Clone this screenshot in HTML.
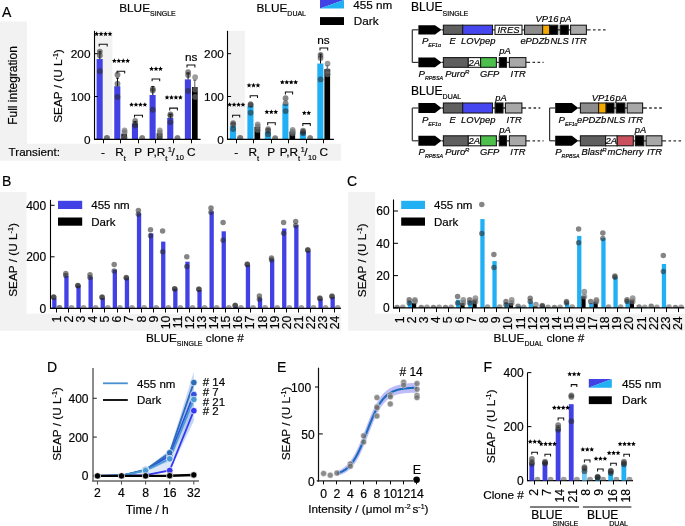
<!DOCTYPE html>
<html><head><meta charset="utf-8"><style>
html,body{margin:0;padding:0;background:#fff;}
body{width:685px;height:526px;overflow:hidden;}
svg{display:block;font-family:"Liberation Sans",sans-serif;will-change:transform;}
text{stroke:#000;stroke-width:0.22px;stroke-opacity:0.8;}
</style></head><body>
<svg width="685" height="526" viewBox="0 0 685 526">
<defs><clipPath id="a94"><rect x="94.30" y="0.00" width="120.00" height="139.30"/></clipPath><clipPath id="a227"><rect x="227.60" y="0.00" width="120.00" height="139.30"/></clipPath><clipPath id="c50"><rect x="50.40" y="150.00" width="300.00" height="158.30"/></clipPath><clipPath id="c393"><rect x="393.80" y="150.00" width="300.00" height="157.90"/></clipPath><clipPath id="fclip"><rect x="528.00" y="300.00" width="110.00" height="180.60"/></clipPath></defs>
<rect width="685" height="526" fill="#fff"/>
<text x="1.90" y="16.90" font-size="14" text-anchor="start" fill="#000">A</text>
<path d="M0 21.5H27V143.8H341.2V160.8H0Z" fill="#f2f2f2"/>
<text x="17.30" y="85.50" font-size="12" text-anchor="middle" transform="rotate(-90 17.30 85.50)" fill="#000">Full integration</text>
<text x="8.60" y="156.40" font-size="11.65" text-anchor="start" fill="#000">Transient:</text>
<text x="119.20" y="12.40" font-size="11.8" text-anchor="start" fill="#000">BLUE<tspan font-size="7" dy="3.4">SINGLE</tspan></text>
<text x="256.50" y="12.30" font-size="11.8" text-anchor="start" fill="#000">BLUE<tspan font-size="7" dy="3.2">DUAL</tspan></text>
<polygon points="320,0 344,0 320,8.6" fill="#4141e6"/>
<polygon points="344,0 344,8.6 320,8.6" fill="#22b0f5"/>
<rect x="320.00" y="17.10" width="24.00" height="7.90" fill="#000"/>
<text x="353.20" y="8.50" font-size="11.7" text-anchor="start" fill="#000">455 nm</text>
<text x="353.80" y="25.00" font-size="11.7" text-anchor="start" fill="#000">Dark</text>
<rect x="94.30" y="30.80" width="18.10" height="108.50" fill="#f2f2f2"/>
<rect x="96.60" y="59.01" width="6.10" height="80.29" fill="#4141e6"/>
<line x1="99.85" y1="59.01" x2="99.85" y2="51.73" stroke="#000" stroke-width="1"/>
<line x1="98.40" y1="51.73" x2="101.30" y2="51.73" stroke="#000" stroke-width="1"/>
<circle cx="99.85" cy="51.56" r="2.90" fill="rgba(40,40,40,0.57)" clip-path="url(#a94)"/>
<circle cx="99.85" cy="55.41" r="2.90" fill="rgba(40,40,40,0.57)" clip-path="url(#a94)"/>
<circle cx="99.85" cy="71.25" r="2.90" fill="rgba(40,40,40,0.57)" clip-path="url(#a94)"/>
<circle cx="106.90" cy="138.02" r="2.90" fill="rgba(110,110,110,0.68)" clip-path="url(#a94)"/>
<circle cx="106.90" cy="138.23" r="2.90" fill="rgba(110,110,110,0.68)" clip-path="url(#a94)"/>
<circle cx="106.90" cy="138.44" r="2.90" fill="rgba(110,110,110,0.68)" clip-path="url(#a94)"/>
<line x1="103.50" y1="139.30" x2="103.50" y2="143.30" stroke="#000" stroke-width="1"/>
<rect x="114.25" y="86.23" width="6.10" height="53.07" fill="#4141e6"/>
<rect x="121.35" y="133.74" width="5.70" height="5.56" fill="#000"/>
<line x1="117.50" y1="86.23" x2="117.50" y2="78.10" stroke="#000" stroke-width="1"/>
<line x1="116.05" y1="78.10" x2="118.95" y2="78.10" stroke="#000" stroke-width="1"/>
<circle cx="117.50" cy="74.67" r="2.90" fill="rgba(40,40,40,0.57)" clip-path="url(#a94)"/>
<circle cx="117.50" cy="83.66" r="2.90" fill="rgba(40,40,40,0.57)" clip-path="url(#a94)"/>
<circle cx="117.50" cy="96.93" r="2.90" fill="rgba(40,40,40,0.57)" clip-path="url(#a94)"/>
<circle cx="124.55" cy="130.31" r="2.90" fill="rgba(110,110,110,0.68)" clip-path="url(#a94)"/>
<circle cx="124.55" cy="132.45" r="2.90" fill="rgba(110,110,110,0.68)" clip-path="url(#a94)"/>
<circle cx="124.55" cy="137.59" r="2.90" fill="rgba(110,110,110,0.68)" clip-path="url(#a94)"/>
<line x1="120.50" y1="139.30" x2="120.50" y2="143.30" stroke="#000" stroke-width="1"/>
<rect x="131.90" y="123.59" width="6.10" height="15.71" fill="#4141e6"/>
<line x1="135.15" y1="123.59" x2="135.15" y2="121.45" stroke="#000" stroke-width="1"/>
<line x1="133.70" y1="121.45" x2="136.60" y2="121.45" stroke="#000" stroke-width="1"/>
<circle cx="135.15" cy="120.90" r="2.90" fill="rgba(40,40,40,0.57)" clip-path="url(#a94)"/>
<circle cx="135.15" cy="123.89" r="2.90" fill="rgba(40,40,40,0.57)" clip-path="url(#a94)"/>
<circle cx="135.15" cy="125.60" r="2.90" fill="rgba(40,40,40,0.57)" clip-path="url(#a94)"/>
<circle cx="142.20" cy="138.02" r="2.90" fill="rgba(110,110,110,0.68)" clip-path="url(#a94)"/>
<circle cx="142.20" cy="138.44" r="2.90" fill="rgba(110,110,110,0.68)" clip-path="url(#a94)"/>
<line x1="138.50" y1="139.30" x2="138.50" y2="143.30" stroke="#000" stroke-width="1"/>
<rect x="149.55" y="95.00" width="6.10" height="44.30" fill="#4141e6"/>
<rect x="156.65" y="133.31" width="5.70" height="5.99" fill="#000"/>
<line x1="152.80" y1="95.00" x2="152.80" y2="86.44" stroke="#000" stroke-width="1"/>
<line x1="151.35" y1="86.44" x2="154.25" y2="86.44" stroke="#000" stroke-width="1"/>
<circle cx="152.80" cy="88.80" r="2.90" fill="rgba(40,40,40,0.57)" clip-path="url(#a94)"/>
<circle cx="152.80" cy="90.51" r="2.90" fill="rgba(40,40,40,0.57)" clip-path="url(#a94)"/>
<circle cx="152.80" cy="109.77" r="2.90" fill="rgba(40,40,40,0.57)" clip-path="url(#a94)"/>
<circle cx="159.85" cy="130.31" r="2.90" fill="rgba(110,110,110,0.68)" clip-path="url(#a94)"/>
<circle cx="159.85" cy="132.88" r="2.90" fill="rgba(110,110,110,0.68)" clip-path="url(#a94)"/>
<circle cx="159.85" cy="136.73" r="2.90" fill="rgba(110,110,110,0.68)" clip-path="url(#a94)"/>
<line x1="155.50" y1="139.30" x2="155.50" y2="143.30" stroke="#000" stroke-width="1"/>
<rect x="167.20" y="117.99" width="6.10" height="21.31" fill="#4141e6"/>
<line x1="170.45" y1="117.99" x2="170.45" y2="114.56" stroke="#000" stroke-width="1"/>
<line x1="169.00" y1="114.56" x2="171.90" y2="114.56" stroke="#000" stroke-width="1"/>
<circle cx="170.45" cy="114.48" r="2.90" fill="rgba(40,40,40,0.57)" clip-path="url(#a94)"/>
<circle cx="170.45" cy="115.76" r="2.90" fill="rgba(40,40,40,0.57)" clip-path="url(#a94)"/>
<circle cx="170.45" cy="122.18" r="2.90" fill="rgba(40,40,40,0.57)" clip-path="url(#a94)"/>
<circle cx="177.50" cy="138.02" r="2.90" fill="rgba(110,110,110,0.68)" clip-path="url(#a94)"/>
<circle cx="177.50" cy="138.44" r="2.90" fill="rgba(110,110,110,0.68)" clip-path="url(#a94)"/>
<line x1="173.50" y1="139.30" x2="173.50" y2="143.30" stroke="#000" stroke-width="1"/>
<rect x="184.85" y="79.38" width="6.10" height="59.92" fill="#4141e6"/>
<rect x="191.95" y="87.08" width="5.70" height="52.22" fill="#000"/>
<line x1="188.10" y1="79.38" x2="188.10" y2="72.96" stroke="#000" stroke-width="1"/>
<line x1="186.65" y1="72.96" x2="189.55" y2="72.96" stroke="#000" stroke-width="1"/>
<line x1="194.80" y1="87.08" x2="194.80" y2="80.24" stroke="#555" stroke-width="1"/>
<line x1="193.35" y1="80.24" x2="196.25" y2="80.24" stroke="#555" stroke-width="1"/>
<circle cx="188.10" cy="72.10" r="2.90" fill="rgba(40,40,40,0.57)" clip-path="url(#a94)"/>
<circle cx="188.10" cy="75.10" r="2.90" fill="rgba(40,40,40,0.57)" clip-path="url(#a94)"/>
<circle cx="188.10" cy="90.94" r="2.90" fill="rgba(40,40,40,0.57)" clip-path="url(#a94)"/>
<circle cx="195.15" cy="77.24" r="2.90" fill="rgba(110,110,110,0.68)" clip-path="url(#a94)"/>
<circle cx="195.15" cy="89.65" r="2.90" fill="rgba(110,110,110,0.68)" clip-path="url(#a94)"/>
<circle cx="195.15" cy="96.93" r="2.90" fill="rgba(110,110,110,0.68)" clip-path="url(#a94)"/>
<line x1="191.50" y1="139.30" x2="191.50" y2="143.30" stroke="#000" stroke-width="1"/>
<line x1="94.50" y1="30.80" x2="94.50" y2="139.80" stroke="#000" stroke-width="1.1"/>
<line x1="94.00" y1="139.30" x2="200.60" y2="139.30" stroke="#000" stroke-width="1.3"/>
<line x1="94.30" y1="139.30" x2="97.80" y2="139.30" stroke="#000" stroke-width="1"/>
<text x="90.50" y="143.50" font-size="11.8" text-anchor="end" fill="#000">0</text>
<line x1="94.30" y1="96.50" x2="97.80" y2="96.50" stroke="#000" stroke-width="1"/>
<text x="90.50" y="100.70" font-size="11.8" text-anchor="end" fill="#000">100</text>
<line x1="94.30" y1="53.70" x2="97.80" y2="53.70" stroke="#000" stroke-width="1"/>
<text x="90.50" y="57.90" font-size="11.8" text-anchor="end" fill="#000">200</text>
<text x="103.00" y="156.30" font-size="11.8" text-anchor="middle" fill="#000">-</text>
<text x="120.65" y="156.30" font-size="11.8" text-anchor="middle" fill="#000">R<tspan font-size="7.5" dy="4.2">t</tspan></text>
<text x="138.30" y="156.30" font-size="11.8" text-anchor="middle" fill="#000">P</text>
<text x="191.25" y="156.30" font-size="11.8" text-anchor="middle" fill="#000">C</text>
<text x="147.05" y="156.30" font-size="11.8" text-anchor="start" fill="#000">P,R<tspan font-size="7.5" dy="4.2">t</tspan></text>
<text x="168.10" y="151.90" font-size="7" text-anchor="start" fill="#000">1</text>
<text x="171.60" y="155.90" font-size="11.8" text-anchor="start" fill="#000">/</text>
<text x="175.50" y="159.60" font-size="7.5" text-anchor="start" fill="#000">10</text>
<text x="62.30" y="86.00" font-size="11.8" text-anchor="middle" transform="rotate(-90 62.30 86.00)" fill="#000">SEAP / (U L<tspan font-size="7.1" dy="-4">-1</tspan><tspan dy="4">)</tspan></text>
<polygon points="96.62,31.45 97.30,33.07 99.05,33.21 97.72,34.36 98.12,36.06 96.62,35.15 95.13,36.06 95.53,34.36 94.20,33.21 95.95,33.07" fill="#000"/>
<polygon points="101.08,31.45 101.75,33.07 103.50,33.21 102.17,34.36 102.57,36.06 101.08,35.15 99.58,36.06 99.98,34.36 98.65,33.21 100.40,33.07" fill="#000"/>
<polygon points="105.53,31.45 106.20,33.07 107.95,33.21 106.62,34.36 107.02,36.06 105.53,35.15 104.03,36.06 104.43,34.36 103.10,33.21 104.85,33.07" fill="#000"/>
<polygon points="109.97,31.45 110.65,33.07 112.40,33.21 111.07,34.36 111.47,36.06 109.97,35.15 108.48,36.06 108.88,34.36 107.55,33.21 109.30,33.07" fill="#000"/>
<path d="M99.20 46.60V44.20H107.20V46.60" fill="none" stroke="#111" stroke-width="1.05"/>
<polygon points="114.33,58.35 115.00,59.97 116.75,60.11 115.42,61.26 115.82,62.96 114.33,62.05 112.83,62.96 113.23,61.26 111.90,60.11 113.65,59.97" fill="#000"/>
<polygon points="118.78,58.35 119.45,59.97 121.20,60.11 119.87,61.26 120.27,62.96 118.78,62.05 117.28,62.96 117.68,61.26 116.35,60.11 118.10,59.97" fill="#000"/>
<polygon points="123.23,58.35 123.90,59.97 125.65,60.11 124.32,61.26 124.72,62.96 123.23,62.05 121.73,62.96 122.13,61.26 120.80,60.11 122.55,59.97" fill="#000"/>
<polygon points="127.68,58.35 128.35,59.97 130.10,60.11 128.77,61.26 129.17,62.96 127.68,62.05 126.18,62.96 126.58,61.26 125.25,60.11 127.00,59.97" fill="#000"/>
<path d="M117.10 73.60V71.20H124.70V73.60" fill="none" stroke="#111" stroke-width="1.05"/>
<polygon points="131.52,102.15 132.20,103.77 133.95,103.91 132.62,105.06 133.02,106.76 131.52,105.85 130.03,106.76 130.43,105.06 129.10,103.91 130.85,103.77" fill="#000"/>
<polygon points="135.97,102.15 136.65,103.77 138.40,103.91 137.07,105.06 137.47,106.76 135.97,105.85 134.48,106.76 134.88,105.06 133.55,103.91 135.30,103.77" fill="#000"/>
<polygon points="140.42,102.15 141.10,103.77 142.85,103.91 141.52,105.06 141.92,106.76 140.42,105.85 138.93,106.76 139.33,105.06 138.00,103.91 139.75,103.77" fill="#000"/>
<polygon points="144.87,102.15 145.55,103.77 147.30,103.91 145.97,105.06 146.37,106.76 144.87,105.85 143.38,106.76 143.78,105.06 142.45,103.91 144.20,103.77" fill="#000"/>
<path d="M134.50 117.60V115.20H142.50V117.60" fill="none" stroke="#111" stroke-width="1.05"/>
<polygon points="151.55,66.35 152.23,67.97 153.98,68.11 152.64,69.26 153.05,70.96 151.55,70.05 150.05,70.96 150.46,69.26 149.12,68.11 150.87,67.97" fill="#000"/>
<polygon points="156.00,66.35 156.68,67.97 158.43,68.11 157.09,69.26 157.50,70.96 156.00,70.05 154.50,70.96 154.91,69.26 153.57,68.11 155.32,67.97" fill="#000"/>
<polygon points="160.45,66.35 161.13,67.97 162.88,68.11 161.54,69.26 161.95,70.96 160.45,70.05 158.95,70.96 159.36,69.26 158.02,68.11 159.77,67.97" fill="#000"/>
<path d="M152.10 81.30V78.90H159.70V81.30" fill="none" stroke="#111" stroke-width="1.05"/>
<polygon points="167.02,94.95 167.70,96.57 169.45,96.71 168.12,97.86 168.52,99.56 167.02,98.65 165.53,99.56 165.93,97.86 164.60,96.71 166.35,96.57" fill="#000"/>
<polygon points="171.47,94.95 172.15,96.57 173.90,96.71 172.57,97.86 172.97,99.56 171.47,98.65 169.98,99.56 170.38,97.86 169.05,96.71 170.80,96.57" fill="#000"/>
<polygon points="175.92,94.95 176.60,96.57 178.35,96.71 177.02,97.86 177.42,99.56 175.92,98.65 174.43,99.56 174.83,97.86 173.50,96.71 175.25,96.57" fill="#000"/>
<polygon points="180.37,94.95 181.05,96.57 182.80,96.71 181.47,97.86 181.87,99.56 180.37,98.65 178.88,99.56 179.28,97.86 177.95,96.71 179.70,96.57" fill="#000"/>
<path d="M169.70 110.50V108.10H177.40V110.50" fill="none" stroke="#111" stroke-width="1.05"/>
<text x="191.20" y="60.60" font-size="11.8" text-anchor="middle" fill="#000">ns</text>
<path d="M187.00 67.40V65.00H194.90V67.40" fill="none" stroke="#111" stroke-width="1.05"/>
<rect x="227.60" y="30.80" width="17.20" height="108.50" fill="#f2f2f2"/>
<rect x="229.90" y="126.03" width="6.10" height="13.27" fill="#22b0f5"/>
<circle cx="233.15" cy="123.04" r="2.90" fill="rgba(40,40,40,0.57)" clip-path="url(#a227)"/>
<circle cx="233.15" cy="124.75" r="2.90" fill="rgba(40,40,40,0.57)" clip-path="url(#a227)"/>
<circle cx="233.15" cy="129.03" r="2.90" fill="rgba(40,40,40,0.57)" clip-path="url(#a227)"/>
<circle cx="240.20" cy="138.02" r="2.90" fill="rgba(110,110,110,0.68)" clip-path="url(#a227)"/>
<circle cx="240.20" cy="138.23" r="2.90" fill="rgba(110,110,110,0.68)" clip-path="url(#a227)"/>
<circle cx="240.20" cy="138.44" r="2.90" fill="rgba(110,110,110,0.68)" clip-path="url(#a227)"/>
<line x1="236.50" y1="139.30" x2="236.50" y2="143.30" stroke="#000" stroke-width="1"/>
<rect x="247.38" y="105.92" width="6.10" height="33.38" fill="#22b0f5"/>
<rect x="254.48" y="126.89" width="5.70" height="12.41" fill="#000"/>
<circle cx="250.63" cy="104.20" r="2.90" fill="rgba(40,40,40,0.57)" clip-path="url(#a227)"/>
<circle cx="250.63" cy="105.06" r="2.90" fill="rgba(40,40,40,0.57)" clip-path="url(#a227)"/>
<circle cx="250.63" cy="112.76" r="2.90" fill="rgba(40,40,40,0.57)" clip-path="url(#a227)"/>
<circle cx="257.68" cy="124.32" r="2.90" fill="rgba(110,110,110,0.68)" clip-path="url(#a227)"/>
<circle cx="257.68" cy="126.46" r="2.90" fill="rgba(110,110,110,0.68)" clip-path="url(#a227)"/>
<circle cx="257.68" cy="129.88" r="2.90" fill="rgba(110,110,110,0.68)" clip-path="url(#a227)"/>
<line x1="253.50" y1="139.30" x2="253.50" y2="143.30" stroke="#000" stroke-width="1"/>
<rect x="264.86" y="131.60" width="6.10" height="7.70" fill="#22b0f5"/>
<circle cx="268.11" cy="129.03" r="2.90" fill="rgba(40,40,40,0.57)" clip-path="url(#a227)"/>
<circle cx="268.11" cy="130.74" r="2.90" fill="rgba(40,40,40,0.57)" clip-path="url(#a227)"/>
<circle cx="268.11" cy="134.16" r="2.90" fill="rgba(40,40,40,0.57)" clip-path="url(#a227)"/>
<circle cx="275.16" cy="138.23" r="2.90" fill="rgba(110,110,110,0.68)" clip-path="url(#a227)"/>
<circle cx="275.16" cy="138.44" r="2.90" fill="rgba(110,110,110,0.68)" clip-path="url(#a227)"/>
<line x1="271.50" y1="139.30" x2="271.50" y2="143.30" stroke="#000" stroke-width="1"/>
<rect x="282.34" y="104.20" width="6.10" height="35.10" fill="#22b0f5"/>
<rect x="289.44" y="131.60" width="5.70" height="7.70" fill="#000"/>
<circle cx="285.59" cy="98.21" r="2.90" fill="rgba(40,40,40,0.57)" clip-path="url(#a227)"/>
<circle cx="285.59" cy="103.35" r="2.90" fill="rgba(40,40,40,0.57)" clip-path="url(#a227)"/>
<circle cx="285.59" cy="111.05" r="2.90" fill="rgba(40,40,40,0.57)" clip-path="url(#a227)"/>
<circle cx="292.64" cy="129.88" r="2.90" fill="rgba(110,110,110,0.68)" clip-path="url(#a227)"/>
<circle cx="292.64" cy="131.60" r="2.90" fill="rgba(110,110,110,0.68)" clip-path="url(#a227)"/>
<circle cx="292.64" cy="133.31" r="2.90" fill="rgba(110,110,110,0.68)" clip-path="url(#a227)"/>
<line x1="288.50" y1="139.30" x2="288.50" y2="143.30" stroke="#000" stroke-width="1"/>
<rect x="299.82" y="132.02" width="6.10" height="7.28" fill="#22b0f5"/>
<circle cx="303.07" cy="130.74" r="2.90" fill="rgba(40,40,40,0.57)" clip-path="url(#a227)"/>
<circle cx="303.07" cy="132.02" r="2.90" fill="rgba(40,40,40,0.57)" clip-path="url(#a227)"/>
<circle cx="303.07" cy="133.31" r="2.90" fill="rgba(40,40,40,0.57)" clip-path="url(#a227)"/>
<circle cx="310.12" cy="138.02" r="2.90" fill="rgba(110,110,110,0.68)" clip-path="url(#a227)"/>
<circle cx="310.12" cy="138.44" r="2.90" fill="rgba(110,110,110,0.68)" clip-path="url(#a227)"/>
<line x1="306.50" y1="139.30" x2="306.50" y2="143.30" stroke="#000" stroke-width="1"/>
<rect x="317.30" y="63.54" width="6.10" height="75.76" fill="#22b0f5"/>
<rect x="324.40" y="69.11" width="5.70" height="70.19" fill="#000"/>
<line x1="320.55" y1="63.54" x2="320.55" y2="54.13" stroke="#000" stroke-width="1"/>
<line x1="319.10" y1="54.13" x2="322.00" y2="54.13" stroke="#000" stroke-width="1"/>
<line x1="327.25" y1="69.11" x2="327.25" y2="65.68" stroke="#555" stroke-width="1"/>
<line x1="325.80" y1="65.68" x2="328.70" y2="65.68" stroke="#555" stroke-width="1"/>
<circle cx="320.55" cy="54.98" r="2.90" fill="rgba(40,40,40,0.57)" clip-path="url(#a227)"/>
<circle cx="320.55" cy="57.98" r="2.90" fill="rgba(40,40,40,0.57)" clip-path="url(#a227)"/>
<circle cx="320.55" cy="79.38" r="2.90" fill="rgba(40,40,40,0.57)" clip-path="url(#a227)"/>
<circle cx="327.60" cy="63.54" r="2.90" fill="rgba(110,110,110,0.68)" clip-path="url(#a227)"/>
<circle cx="327.60" cy="70.82" r="2.90" fill="rgba(110,110,110,0.68)" clip-path="url(#a227)"/>
<circle cx="327.60" cy="74.24" r="2.90" fill="rgba(110,110,110,0.68)" clip-path="url(#a227)"/>
<line x1="323.50" y1="139.30" x2="323.50" y2="143.30" stroke="#000" stroke-width="1"/>
<line x1="227.50" y1="30.80" x2="227.50" y2="139.80" stroke="#000" stroke-width="1.1"/>
<line x1="227.00" y1="139.30" x2="333.90" y2="139.30" stroke="#000" stroke-width="1.3"/>
<line x1="227.60" y1="139.30" x2="231.10" y2="139.30" stroke="#000" stroke-width="1"/>
<text x="223.80" y="143.50" font-size="11.8" text-anchor="end" fill="#000">0</text>
<line x1="227.60" y1="96.50" x2="231.10" y2="96.50" stroke="#000" stroke-width="1"/>
<text x="223.80" y="100.70" font-size="11.8" text-anchor="end" fill="#000">100</text>
<line x1="227.60" y1="53.70" x2="231.10" y2="53.70" stroke="#000" stroke-width="1"/>
<text x="223.80" y="57.90" font-size="11.8" text-anchor="end" fill="#000">200</text>
<text x="236.30" y="156.30" font-size="11.8" text-anchor="middle" fill="#000">-</text>
<text x="253.78" y="156.30" font-size="11.8" text-anchor="middle" fill="#000">R<tspan font-size="7.5" dy="4.2">t</tspan></text>
<text x="271.26" y="156.30" font-size="11.8" text-anchor="middle" fill="#000">P</text>
<text x="323.70" y="156.30" font-size="11.8" text-anchor="middle" fill="#000">C</text>
<text x="279.84" y="156.30" font-size="11.8" text-anchor="start" fill="#000">P,R<tspan font-size="7.5" dy="4.2">t</tspan></text>
<text x="300.72" y="151.90" font-size="7" text-anchor="start" fill="#000">1</text>
<text x="304.22" y="155.90" font-size="11.8" text-anchor="start" fill="#000">/</text>
<text x="308.12" y="159.60" font-size="7.5" text-anchor="start" fill="#000">10</text>
<polygon points="229.62,102.15 230.30,103.77 232.05,103.91 230.72,105.06 231.12,106.76 229.62,105.85 228.13,106.76 228.53,105.06 227.20,103.91 228.95,103.77" fill="#000"/>
<polygon points="234.07,102.15 234.75,103.77 236.50,103.91 235.17,105.06 235.57,106.76 234.07,105.85 232.58,106.76 232.98,105.06 231.65,103.91 233.40,103.77" fill="#000"/>
<polygon points="238.53,102.15 239.20,103.77 240.95,103.91 239.62,105.06 240.02,106.76 238.53,105.85 237.03,106.76 237.43,105.06 236.10,103.91 237.85,103.77" fill="#000"/>
<polygon points="242.97,102.15 243.65,103.77 245.40,103.91 244.07,105.06 244.47,106.76 242.97,105.85 241.48,106.76 241.88,105.06 240.55,103.91 242.30,103.77" fill="#000"/>
<path d="M232.60 117.60V115.20H239.70V117.60" fill="none" stroke="#111" stroke-width="1.05"/>
<polygon points="249.05,82.85 249.73,84.47 251.48,84.61 250.14,85.76 250.55,87.46 249.05,86.55 247.55,87.46 247.96,85.76 246.62,84.61 248.37,84.47" fill="#000"/>
<polygon points="253.50,82.85 254.18,84.47 255.93,84.61 254.59,85.76 255.00,87.46 253.50,86.55 252.00,87.46 252.41,85.76 251.07,84.61 252.82,84.47" fill="#000"/>
<polygon points="257.95,82.85 258.63,84.47 260.38,84.61 259.04,85.76 259.45,87.46 257.95,86.55 256.45,87.46 256.86,85.76 255.52,84.61 257.27,84.47" fill="#000"/>
<path d="M250.20 98.10V95.70H257.50V98.10" fill="none" stroke="#111" stroke-width="1.05"/>
<polygon points="266.85,109.45 267.53,111.07 269.28,111.21 267.94,112.36 268.35,114.06 266.85,113.15 265.35,114.06 265.76,112.36 264.42,111.21 266.17,111.07" fill="#000"/>
<polygon points="271.30,109.45 271.98,111.07 273.73,111.21 272.39,112.36 272.80,114.06 271.30,113.15 269.80,114.06 270.21,112.36 268.87,111.21 270.62,111.07" fill="#000"/>
<polygon points="275.75,109.45 276.43,111.07 278.18,111.21 276.84,112.36 277.25,114.06 275.75,113.15 274.25,114.06 274.66,112.36 273.32,111.21 275.07,111.07" fill="#000"/>
<path d="M267.70 125.20V122.80H275.30V125.20" fill="none" stroke="#111" stroke-width="1.05"/>
<polygon points="282.32,79.75 283.00,81.37 284.75,81.51 283.42,82.66 283.82,84.36 282.32,83.45 280.83,84.36 281.23,82.66 279.90,81.51 281.65,81.37" fill="#000"/>
<polygon points="286.77,79.75 287.45,81.37 289.20,81.51 287.87,82.66 288.27,84.36 286.77,83.45 285.28,84.36 285.68,82.66 284.35,81.51 286.10,81.37" fill="#000"/>
<polygon points="291.22,79.75 291.90,81.37 293.65,81.51 292.32,82.66 292.72,84.36 291.22,83.45 289.73,84.36 290.13,82.66 288.80,81.51 290.55,81.37" fill="#000"/>
<polygon points="295.68,79.75 296.35,81.37 298.10,81.51 296.77,82.66 297.17,84.36 295.68,83.45 294.18,84.36 294.58,82.66 293.25,81.51 295.00,81.37" fill="#000"/>
<path d="M285.40 94.40V92.00H292.60V94.40" fill="none" stroke="#111" stroke-width="1.05"/>
<polygon points="304.27,110.45 304.95,112.07 306.70,112.21 305.37,113.36 305.77,115.06 304.27,114.15 302.78,115.06 303.18,113.36 301.85,112.21 303.60,112.07" fill="#000"/>
<polygon points="308.72,110.45 309.40,112.07 311.15,112.21 309.82,113.36 310.22,115.06 308.72,114.15 307.23,115.06 307.63,113.36 306.30,112.21 308.05,112.07" fill="#000"/>
<path d="M302.80 126.00V123.60H310.30V126.00" fill="none" stroke="#111" stroke-width="1.05"/>
<text x="323.50" y="44.00" font-size="11.8" text-anchor="middle" fill="#000">ns</text>
<path d="M320.00 50.40V48.00H327.70V50.40" fill="none" stroke="#111" stroke-width="1.05"/>
<text x="411.00" y="11.20" font-size="12.1" text-anchor="start" fill="#000">BLUE<tspan font-size="7" dy="4.5">SINGLE</tspan></text>
<line x1="441.50" y1="29.80" x2="586.40" y2="29.80" stroke="#333" stroke-width="1.3"/>
<line x1="586.40" y1="29.80" x2="605.60" y2="29.80" stroke="#333" stroke-width="1.3" stroke-dasharray="4.2 2.4 2.6 2.4 2.6 2.4 2.6 9"/>
<polygon points="418.40,25.20 435.00,25.20 441.50,29.80 435.00,34.40 418.40,34.40" fill="#000"/>
<rect x="443.40" y="25.20" width="19.30" height="9.20" fill="#5f5f5f" stroke="#1a1a1a" stroke-width="1.1"/>
<rect x="462.70" y="25.20" width="29.80" height="9.20" fill="#4646f0" stroke="#1a1a1a" stroke-width="1.1"/>
<rect x="495.00" y="25.20" width="27.00" height="9.20" fill="#fff" stroke="#1a1a1a" stroke-width="1.1"/>
<text x="508.50" y="32.80" font-size="9.5" text-anchor="middle" font-style="italic" fill="#000">IRES</text>
<rect x="524.50" y="25.20" width="18.10" height="9.20" fill="#8c8c8c" stroke="#1a1a1a" stroke-width="1.1"/>
<rect x="542.60" y="25.20" width="7.00" height="9.20" fill="#f5a800" stroke="#1a1a1a" stroke-width="1.1"/>
<rect x="549.60" y="25.20" width="8.20" height="9.20" fill="#000" stroke="#1a1a1a" stroke-width="1.1"/>
<rect x="560.20" y="25.20" width="8.10" height="9.20" fill="#000" stroke="#1a1a1a" stroke-width="1.1"/>
<rect x="570.60" y="25.20" width="15.80" height="9.20" fill="#a8a8a8" stroke="#1a1a1a" stroke-width="1.1"/>
<line x1="412.30" y1="29.80" x2="412.30" y2="62.40" stroke="#333" stroke-width="1.2"/>
<line x1="412.30" y1="29.80" x2="418.40" y2="29.80" stroke="#333" stroke-width="1.2"/>
<line x1="412.30" y1="62.40" x2="418.40" y2="62.40" stroke="#333" stroke-width="1.2"/>
<text x="421.90" y="43.80" font-size="9.6" text-anchor="start" font-style="italic" fill="#000">P<tspan font-size="5.3" dy="3.5">EF1α</tspan></text>
<text x="449.50" y="44.20" font-size="9.4" text-anchor="start" font-style="italic" fill="#000">E</text>
<text x="461.00" y="44.20" font-size="9.4" text-anchor="start" font-style="italic" fill="#000">LOVpep</text>
<text x="520.40" y="44.20" font-size="9.4" text-anchor="start" font-style="italic" fill="#000">ePDZb</text>
<text x="550.60" y="44.20" font-size="9.4" text-anchor="start" font-style="italic" fill="#000">NLS</text>
<text x="571.60" y="44.20" font-size="9.4" text-anchor="start" font-style="italic" fill="#000">ITR</text>
<text x="535.50" y="21.90" font-size="9.4" text-anchor="start" font-style="italic" fill="#000">VP16</text>
<text x="560.00" y="21.90" font-size="9.4" text-anchor="start" font-style="italic" fill="#000">pA</text>
<polygon points="418.40,57.60 435.00,57.60 441.50,62.45 435.00,67.30 418.40,67.30" fill="#000"/>
<line x1="441.50" y1="62.45" x2="525.90" y2="62.45" stroke="#333" stroke-width="1.3"/>
<rect x="443.40" y="57.60" width="24.90" height="9.70" fill="#5f5f5f" stroke="#1a1a1a" stroke-width="1.1"/>
<rect x="468.30" y="57.60" width="12.30" height="9.70" fill="#fff" stroke="#1a1a1a" stroke-width="1.1"/>
<text x="474.40" y="65.80" font-size="9.5" text-anchor="middle" font-style="italic" fill="#000">2A</text>
<rect x="480.60" y="57.60" width="15.80" height="9.70" fill="#4cbf4c" stroke="#1a1a1a" stroke-width="1.1"/>
<rect x="499.30" y="57.60" width="7.20" height="9.70" fill="#000" stroke="#1a1a1a" stroke-width="1.1"/>
<rect x="509.40" y="57.60" width="16.50" height="9.70" fill="#a8a8a8" stroke="#1a1a1a" stroke-width="1.1"/>
<line x1="525.90" y1="62.45" x2="543.60" y2="62.45" stroke="#333" stroke-width="1.3" stroke-dasharray="4.2 2.4 2.6 2.4 2.6 2.4 2.6 9"/>
<text x="418.60" y="76.90" font-size="9.6" text-anchor="start" font-style="italic" fill="#000">P<tspan font-size="5.3" dy="3.5">RPBSA</tspan></text>
<text x="445.30" y="77.20" font-size="9.4" text-anchor="start" font-style="italic" fill="#000">Puro<tspan font-size="6" dy="-3.5">R</tspan></text>
<text x="480.00" y="77.20" font-size="9.4" text-anchor="start" font-style="italic" fill="#000">GFP</text>
<text x="499.30" y="54.30" font-size="9.4" text-anchor="start" font-style="italic" fill="#000">pA</text>
<text x="510.60" y="77.20" font-size="9.4" text-anchor="start" font-style="italic" fill="#000">ITR</text>
<text x="411.00" y="95.20" font-size="12.1" text-anchor="start" fill="#000">BLUE<tspan font-size="7" dy="3.6">DUAL</tspan></text>
<line x1="441.50" y1="108.00" x2="521.90" y2="108.00" stroke="#333" stroke-width="1.3"/>
<line x1="521.90" y1="108.00" x2="540.30" y2="108.00" stroke="#333" stroke-width="1.3" stroke-dasharray="4.2 2.4 2.6 2.4 2.6 2.4 2.6 9"/>
<polygon points="418.40,103.00 435.00,103.00 441.50,108.00 435.00,113.00 418.40,113.00" fill="#000"/>
<rect x="443.40" y="103.00" width="19.30" height="10.00" fill="#5f5f5f" stroke="#1a1a1a" stroke-width="1.1"/>
<rect x="462.70" y="103.00" width="29.80" height="10.00" fill="#4646f0" stroke="#1a1a1a" stroke-width="1.1"/>
<rect x="495.10" y="103.00" width="7.90" height="10.00" fill="#000" stroke="#1a1a1a" stroke-width="1.1"/>
<rect x="505.40" y="103.00" width="16.50" height="10.00" fill="#a8a8a8" stroke="#1a1a1a" stroke-width="1.1"/>
<line x1="412.30" y1="108.00" x2="412.30" y2="140.80" stroke="#333" stroke-width="1.2"/>
<line x1="412.30" y1="108.00" x2="418.40" y2="108.00" stroke="#333" stroke-width="1.2"/>
<line x1="412.30" y1="140.80" x2="418.40" y2="140.80" stroke="#333" stroke-width="1.2"/>
<text x="421.90" y="122.60" font-size="9.6" text-anchor="start" font-style="italic" fill="#000">P<tspan font-size="5.3" dy="3.5">EF1α</tspan></text>
<text x="449.50" y="122.90" font-size="9.4" text-anchor="start" font-style="italic" fill="#000">E</text>
<text x="461.00" y="122.90" font-size="9.4" text-anchor="start" font-style="italic" fill="#000">LOVpep</text>
<text x="495.20" y="100.80" font-size="9.4" text-anchor="start" font-style="italic" fill="#000">pA</text>
<text x="506.60" y="122.90" font-size="9.4" text-anchor="start" font-style="italic" fill="#000">ITR</text>
<polygon points="418.40,135.80 435.00,135.80 441.50,140.80 435.00,145.80 418.40,145.80" fill="#000"/>
<line x1="441.50" y1="140.80" x2="525.90" y2="140.80" stroke="#333" stroke-width="1.3"/>
<rect x="443.40" y="135.80" width="24.90" height="10.00" fill="#5f5f5f" stroke="#1a1a1a" stroke-width="1.1"/>
<rect x="468.30" y="135.80" width="12.30" height="10.00" fill="#fff" stroke="#1a1a1a" stroke-width="1.1"/>
<text x="474.40" y="144.30" font-size="9.5" text-anchor="middle" font-style="italic" fill="#000">2A</text>
<rect x="480.60" y="135.80" width="15.80" height="10.00" fill="#4cbf4c" stroke="#1a1a1a" stroke-width="1.1"/>
<rect x="499.30" y="135.80" width="7.20" height="10.00" fill="#000" stroke="#1a1a1a" stroke-width="1.1"/>
<rect x="509.40" y="135.80" width="16.50" height="10.00" fill="#a8a8a8" stroke="#1a1a1a" stroke-width="1.1"/>
<line x1="525.90" y1="140.80" x2="543.60" y2="140.80" stroke="#333" stroke-width="1.3" stroke-dasharray="4.2 2.4 2.6 2.4 2.6 2.4 2.6 9"/>
<text x="418.60" y="154.80" font-size="9.6" text-anchor="start" font-style="italic" fill="#000">P<tspan font-size="5.3" dy="3.5">RPBSA</tspan></text>
<text x="445.30" y="155.10" font-size="9.4" text-anchor="start" font-style="italic" fill="#000">Puro<tspan font-size="6" dy="-3.5">R</tspan></text>
<text x="480.00" y="155.10" font-size="9.4" text-anchor="start" font-style="italic" fill="#000">GFP</text>
<text x="499.30" y="133.20" font-size="9.4" text-anchor="start" font-style="italic" fill="#000">pA</text>
<text x="510.30" y="155.10" font-size="9.4" text-anchor="start" font-style="italic" fill="#000">ITR</text>
<polygon points="555.20,103.00 571.80,103.00 578.30,108.00 571.80,113.00 555.20,113.00" fill="#000"/>
<line x1="578.00" y1="108.00" x2="642.60" y2="108.00" stroke="#333" stroke-width="1.3"/>
<line x1="642.60" y1="108.00" x2="662.20" y2="108.00" stroke="#333" stroke-width="1.3" stroke-dasharray="4.2 2.4 2.6 2.4 2.6 2.4 2.6 9"/>
<rect x="580.40" y="103.00" width="18.20" height="10.00" fill="#8c8c8c" stroke="#1a1a1a" stroke-width="1.1"/>
<rect x="598.60" y="103.00" width="7.60" height="10.00" fill="#f5a800" stroke="#1a1a1a" stroke-width="1.1"/>
<rect x="606.20" y="103.00" width="7.80" height="10.00" fill="#000" stroke="#1a1a1a" stroke-width="1.1"/>
<rect x="616.20" y="103.00" width="8.70" height="10.00" fill="#000" stroke="#1a1a1a" stroke-width="1.1"/>
<rect x="627.20" y="103.00" width="15.40" height="10.00" fill="#a8a8a8" stroke="#1a1a1a" stroke-width="1.1"/>
<text x="591.80" y="100.80" font-size="9.4" text-anchor="start" font-style="italic" fill="#000">VP16</text>
<text x="615.50" y="100.80" font-size="9.4" text-anchor="start" font-style="italic" fill="#000">pA</text>
<text x="558.50" y="122.60" font-size="9.6" text-anchor="start" font-style="italic" fill="#000">P<tspan font-size="5.3" dy="3.5">EF1α</tspan></text>
<text x="577.00" y="122.90" font-size="9.4" text-anchor="start" font-style="italic" fill="#000">ePDZb</text>
<text x="607.00" y="122.90" font-size="9.4" text-anchor="start" font-style="italic" fill="#000">NLS</text>
<text x="628.00" y="122.90" font-size="9.4" text-anchor="start" font-style="italic" fill="#000">ITR</text>
<line x1="549.60" y1="108.00" x2="549.60" y2="140.80" stroke="#333" stroke-width="1.2"/>
<line x1="549.60" y1="108.00" x2="555.20" y2="108.00" stroke="#333" stroke-width="1.2"/>
<line x1="549.60" y1="140.80" x2="555.20" y2="140.80" stroke="#333" stroke-width="1.2"/>
<polygon points="555.20,135.80 571.80,135.80 578.30,140.80 571.80,145.80 555.20,145.80" fill="#000"/>
<line x1="578.00" y1="140.80" x2="661.90" y2="140.80" stroke="#333" stroke-width="1.3"/>
<line x1="661.90" y1="140.80" x2="681.50" y2="140.80" stroke="#333" stroke-width="1.3" stroke-dasharray="4.2 2.4 2.6 2.4 2.6 2.4 2.6 9"/>
<rect x="580.40" y="135.80" width="25.20" height="10.00" fill="#5f5f5f" stroke="#1a1a1a" stroke-width="1.1"/>
<rect x="605.60" y="135.80" width="11.60" height="10.00" fill="#fff" stroke="#1a1a1a" stroke-width="1.1"/>
<text x="611.40" y="144.30" font-size="9.5" text-anchor="middle" font-style="italic" fill="#000">2A</text>
<rect x="617.20" y="135.80" width="16.10" height="10.00" fill="#c9505c" stroke="#1a1a1a" stroke-width="1.1"/>
<rect x="635.40" y="135.80" width="8.40" height="10.00" fill="#000" stroke="#1a1a1a" stroke-width="1.1"/>
<rect x="646.10" y="135.80" width="15.80" height="10.00" fill="#a8a8a8" stroke="#1a1a1a" stroke-width="1.1"/>
<text x="555.20" y="154.80" font-size="9.6" text-anchor="start" font-style="italic" fill="#000">P<tspan font-size="5.3" dy="3.5">RPBSA</tspan></text>
<text x="581.50" y="155.10" font-size="9.4" text-anchor="start" font-style="italic" fill="#000">Blast<tspan font-size="6" dy="-3.5">R</tspan></text>
<text x="607.50" y="155.10" font-size="9.4" text-anchor="start" font-style="italic" fill="#000">mCherry</text>
<text x="634.80" y="133.20" font-size="9.4" text-anchor="start" font-style="italic" fill="#000">pA</text>
<text x="647.00" y="155.10" font-size="9.4" text-anchor="start" font-style="italic" fill="#000">ITR</text>
<path d="M0 191.9H26.5V313.7H341V330.8H0Z" fill="#f2f2f2"/>
<path d="M348 191.9H375.2V313.7H685V330.8H348Z" fill="#f2f2f2"/>
<text x="2.00" y="185.90" font-size="14" text-anchor="start" fill="#000">B</text>
<text x="346.90" y="186.10" font-size="14" text-anchor="start" fill="#000">C</text>
<rect x="0.00" y="191.90" width="0.00" height="0.00" fill="#f2f2f2"/>
<rect x="52.20" y="298.26" width="4.30" height="10.04" fill="#4141e6"/>
<circle cx="53.70" cy="296.97" r="2.75" fill="rgba(40,40,40,0.57)" clip-path="url(#c50)"/>
<circle cx="53.70" cy="297.23" r="2.75" fill="rgba(40,40,40,0.57)" clip-path="url(#c50)"/>
<circle cx="59.40" cy="307.79" r="2.90" fill="rgba(110,110,110,0.68)" clip-path="url(#c50)"/>
<circle cx="59.40" cy="307.79" r="2.90" fill="rgba(110,110,110,0.68)" clip-path="url(#c50)"/>
<rect x="64.30" y="275.86" width="4.30" height="32.45" fill="#4141e6"/>
<circle cx="65.80" cy="273.54" r="2.75" fill="rgba(40,40,40,0.57)" clip-path="url(#c50)"/>
<circle cx="65.80" cy="275.60" r="2.75" fill="rgba(40,40,40,0.57)" clip-path="url(#c50)"/>
<circle cx="71.50" cy="307.79" r="2.90" fill="rgba(110,110,110,0.68)" clip-path="url(#c50)"/>
<rect x="76.40" y="285.64" width="4.30" height="22.66" fill="#4141e6"/>
<circle cx="77.90" cy="285.38" r="2.75" fill="rgba(40,40,40,0.57)" clip-path="url(#c50)"/>
<circle cx="77.90" cy="285.64" r="2.75" fill="rgba(40,40,40,0.57)" clip-path="url(#c50)"/>
<circle cx="83.60" cy="307.79" r="2.90" fill="rgba(110,110,110,0.68)" clip-path="url(#c50)"/>
<rect x="88.50" y="276.88" width="4.30" height="31.41" fill="#4141e6"/>
<circle cx="90.00" cy="274.82" r="2.75" fill="rgba(40,40,40,0.57)" clip-path="url(#c50)"/>
<circle cx="90.00" cy="277.40" r="2.75" fill="rgba(40,40,40,0.57)" clip-path="url(#c50)"/>
<circle cx="95.70" cy="307.79" r="2.90" fill="rgba(110,110,110,0.68)" clip-path="url(#c50)"/>
<rect x="100.60" y="298.00" width="4.30" height="10.30" fill="#4141e6"/>
<circle cx="102.10" cy="296.97" r="2.75" fill="rgba(40,40,40,0.57)" clip-path="url(#c50)"/>
<circle cx="102.10" cy="297.49" r="2.75" fill="rgba(40,40,40,0.57)" clip-path="url(#c50)"/>
<circle cx="107.80" cy="307.79" r="2.90" fill="rgba(110,110,110,0.68)" clip-path="url(#c50)"/>
<rect x="112.70" y="269.68" width="4.30" height="38.62" fill="#4141e6"/>
<circle cx="114.20" cy="264.53" r="2.75" fill="rgba(40,40,40,0.57)" clip-path="url(#c50)"/>
<circle cx="114.20" cy="270.96" r="2.75" fill="rgba(40,40,40,0.57)" clip-path="url(#c50)"/>
<circle cx="119.90" cy="307.79" r="2.90" fill="rgba(110,110,110,0.68)" clip-path="url(#c50)"/>
<rect x="124.80" y="278.17" width="4.30" height="30.13" fill="#4141e6"/>
<circle cx="126.30" cy="277.40" r="2.75" fill="rgba(40,40,40,0.57)" clip-path="url(#c50)"/>
<circle cx="126.30" cy="277.92" r="2.75" fill="rgba(40,40,40,0.57)" clip-path="url(#c50)"/>
<circle cx="132.00" cy="307.79" r="2.90" fill="rgba(110,110,110,0.68)" clip-path="url(#c50)"/>
<rect x="136.90" y="213.28" width="4.30" height="95.02" fill="#4141e6"/>
<circle cx="138.40" cy="210.45" r="2.75" fill="rgba(40,40,40,0.57)" clip-path="url(#c50)"/>
<circle cx="138.40" cy="214.31" r="2.75" fill="rgba(40,40,40,0.57)" clip-path="url(#c50)"/>
<circle cx="144.10" cy="307.79" r="2.90" fill="rgba(110,110,110,0.68)" clip-path="url(#c50)"/>
<rect x="149.00" y="233.37" width="4.30" height="74.93" fill="#4141e6"/>
<circle cx="150.50" cy="229.76" r="2.75" fill="rgba(40,40,40,0.57)" clip-path="url(#c50)"/>
<circle cx="150.50" cy="235.69" r="2.75" fill="rgba(40,40,40,0.57)" clip-path="url(#c50)"/>
<circle cx="156.20" cy="307.79" r="2.90" fill="rgba(110,110,110,0.68)" clip-path="url(#c50)"/>
<rect x="161.10" y="241.61" width="4.30" height="66.69" fill="#4141e6"/>
<circle cx="162.60" cy="231.05" r="2.75" fill="rgba(40,40,40,0.57)" clip-path="url(#c50)"/>
<circle cx="162.60" cy="251.65" r="2.75" fill="rgba(40,40,40,0.57)" clip-path="url(#c50)"/>
<circle cx="168.30" cy="307.79" r="2.90" fill="rgba(110,110,110,0.68)" clip-path="url(#c50)"/>
<rect x="173.20" y="288.73" width="4.30" height="19.57" fill="#4141e6"/>
<circle cx="174.70" cy="288.73" r="2.75" fill="rgba(40,40,40,0.57)" clip-path="url(#c50)"/>
<circle cx="174.70" cy="288.99" r="2.75" fill="rgba(40,40,40,0.57)" clip-path="url(#c50)"/>
<circle cx="180.40" cy="307.79" r="2.90" fill="rgba(110,110,110,0.68)" clip-path="url(#c50)"/>
<rect x="185.30" y="261.69" width="4.30" height="46.61" fill="#4141e6"/>
<circle cx="186.80" cy="256.80" r="2.75" fill="rgba(40,40,40,0.57)" clip-path="url(#c50)"/>
<circle cx="186.80" cy="266.59" r="2.75" fill="rgba(40,40,40,0.57)" clip-path="url(#c50)"/>
<circle cx="192.50" cy="307.79" r="2.90" fill="rgba(110,110,110,0.68)" clip-path="url(#c50)"/>
<rect x="197.40" y="290.02" width="4.30" height="18.28" fill="#4141e6"/>
<circle cx="198.90" cy="288.99" r="2.75" fill="rgba(40,40,40,0.57)" clip-path="url(#c50)"/>
<circle cx="198.90" cy="289.50" r="2.75" fill="rgba(40,40,40,0.57)" clip-path="url(#c50)"/>
<circle cx="204.60" cy="307.79" r="2.90" fill="rgba(110,110,110,0.68)" clip-path="url(#c50)"/>
<rect x="209.50" y="211.48" width="4.30" height="96.82" fill="#4141e6"/>
<circle cx="211.00" cy="207.88" r="2.75" fill="rgba(40,40,40,0.57)" clip-path="url(#c50)"/>
<circle cx="211.00" cy="212.25" r="2.75" fill="rgba(40,40,40,0.57)" clip-path="url(#c50)"/>
<circle cx="216.70" cy="307.79" r="2.90" fill="rgba(110,110,110,0.68)" clip-path="url(#c50)"/>
<rect x="221.60" y="231.31" width="4.30" height="76.99" fill="#4141e6"/>
<circle cx="223.10" cy="222.55" r="2.75" fill="rgba(40,40,40,0.57)" clip-path="url(#c50)"/>
<circle cx="223.10" cy="240.32" r="2.75" fill="rgba(40,40,40,0.57)" clip-path="url(#c50)"/>
<circle cx="228.80" cy="307.79" r="2.90" fill="rgba(110,110,110,0.68)" clip-path="url(#c50)"/>
<rect x="233.70" y="306.75" width="4.30" height="1.54" fill="#4141e6"/>
<circle cx="235.20" cy="305.21" r="2.75" fill="rgba(40,40,40,0.57)" clip-path="url(#c50)"/>
<circle cx="235.20" cy="305.73" r="2.75" fill="rgba(40,40,40,0.57)" clip-path="url(#c50)"/>
<circle cx="240.90" cy="307.79" r="2.90" fill="rgba(110,110,110,0.68)" clip-path="url(#c50)"/>
<rect x="245.80" y="265.04" width="4.30" height="43.26" fill="#4141e6"/>
<circle cx="247.30" cy="264.01" r="2.75" fill="rgba(40,40,40,0.57)" clip-path="url(#c50)"/>
<circle cx="247.30" cy="264.78" r="2.75" fill="rgba(40,40,40,0.57)" clip-path="url(#c50)"/>
<circle cx="253.00" cy="307.79" r="2.90" fill="rgba(110,110,110,0.68)" clip-path="url(#c50)"/>
<rect x="257.90" y="298.26" width="4.30" height="10.04" fill="#4141e6"/>
<circle cx="259.40" cy="295.94" r="2.75" fill="rgba(40,40,40,0.57)" clip-path="url(#c50)"/>
<circle cx="259.40" cy="299.29" r="2.75" fill="rgba(40,40,40,0.57)" clip-path="url(#c50)"/>
<circle cx="265.10" cy="307.79" r="2.90" fill="rgba(110,110,110,0.68)" clip-path="url(#c50)"/>
<rect x="270.00" y="259.38" width="4.30" height="48.93" fill="#4141e6"/>
<circle cx="271.50" cy="258.09" r="2.75" fill="rgba(40,40,40,0.57)" clip-path="url(#c50)"/>
<circle cx="271.50" cy="259.89" r="2.75" fill="rgba(40,40,40,0.57)" clip-path="url(#c50)"/>
<circle cx="277.20" cy="307.79" r="2.90" fill="rgba(110,110,110,0.68)" clip-path="url(#c50)"/>
<rect x="282.10" y="228.48" width="4.30" height="79.83" fill="#4141e6"/>
<circle cx="283.60" cy="222.55" r="2.75" fill="rgba(40,40,40,0.57)" clip-path="url(#c50)"/>
<circle cx="283.60" cy="233.37" r="2.75" fill="rgba(40,40,40,0.57)" clip-path="url(#c50)"/>
<circle cx="289.30" cy="307.79" r="2.90" fill="rgba(110,110,110,0.68)" clip-path="url(#c50)"/>
<rect x="294.20" y="225.13" width="4.30" height="83.17" fill="#4141e6"/>
<circle cx="295.70" cy="221.52" r="2.75" fill="rgba(40,40,40,0.57)" clip-path="url(#c50)"/>
<circle cx="295.70" cy="225.64" r="2.75" fill="rgba(40,40,40,0.57)" clip-path="url(#c50)"/>
<circle cx="301.40" cy="307.79" r="2.90" fill="rgba(110,110,110,0.68)" clip-path="url(#c50)"/>
<rect x="306.30" y="250.88" width="4.30" height="57.42" fill="#4141e6"/>
<circle cx="307.80" cy="249.85" r="2.75" fill="rgba(40,40,40,0.57)" clip-path="url(#c50)"/>
<circle cx="307.80" cy="250.36" r="2.75" fill="rgba(40,40,40,0.57)" clip-path="url(#c50)"/>
<circle cx="313.50" cy="307.79" r="2.90" fill="rgba(110,110,110,0.68)" clip-path="url(#c50)"/>
<rect x="318.40" y="298.77" width="4.30" height="9.53" fill="#4141e6"/>
<circle cx="319.90" cy="298.00" r="2.75" fill="rgba(40,40,40,0.57)" clip-path="url(#c50)"/>
<circle cx="319.90" cy="298.77" r="2.75" fill="rgba(40,40,40,0.57)" clip-path="url(#c50)"/>
<circle cx="325.60" cy="307.79" r="2.90" fill="rgba(110,110,110,0.68)" clip-path="url(#c50)"/>
<rect x="330.50" y="296.97" width="4.30" height="11.33" fill="#4141e6"/>
<circle cx="332.00" cy="295.94" r="2.75" fill="rgba(40,40,40,0.57)" clip-path="url(#c50)"/>
<circle cx="332.00" cy="296.71" r="2.75" fill="rgba(40,40,40,0.57)" clip-path="url(#c50)"/>
<circle cx="337.70" cy="307.79" r="2.90" fill="rgba(110,110,110,0.68)" clip-path="url(#c50)"/>
<line x1="56.50" y1="308.30" x2="56.50" y2="312.50" stroke="#000" stroke-width="1"/>
<text x="60.90" y="315.70" font-size="12.2" text-anchor="end" transform="rotate(-90 60.90 315.70)" fill="#000">1</text>
<line x1="68.50" y1="308.30" x2="68.50" y2="312.50" stroke="#000" stroke-width="1"/>
<text x="73.00" y="315.70" font-size="12.2" text-anchor="end" transform="rotate(-90 73.00 315.70)" fill="#000">2</text>
<line x1="80.50" y1="308.30" x2="80.50" y2="312.50" stroke="#000" stroke-width="1"/>
<text x="85.10" y="315.70" font-size="12.2" text-anchor="end" transform="rotate(-90 85.10 315.70)" fill="#000">3</text>
<line x1="92.50" y1="308.30" x2="92.50" y2="312.50" stroke="#000" stroke-width="1"/>
<text x="97.20" y="315.70" font-size="12.2" text-anchor="end" transform="rotate(-90 97.20 315.70)" fill="#000">4</text>
<line x1="104.50" y1="308.30" x2="104.50" y2="312.50" stroke="#000" stroke-width="1"/>
<text x="109.30" y="315.70" font-size="12.2" text-anchor="end" transform="rotate(-90 109.30 315.70)" fill="#000">5</text>
<line x1="117.50" y1="308.30" x2="117.50" y2="312.50" stroke="#000" stroke-width="1"/>
<text x="121.40" y="315.70" font-size="12.2" text-anchor="end" transform="rotate(-90 121.40 315.70)" fill="#000">6</text>
<line x1="129.50" y1="308.30" x2="129.50" y2="312.50" stroke="#000" stroke-width="1"/>
<text x="133.50" y="315.70" font-size="12.2" text-anchor="end" transform="rotate(-90 133.50 315.70)" fill="#000">7</text>
<line x1="141.50" y1="308.30" x2="141.50" y2="312.50" stroke="#000" stroke-width="1"/>
<text x="145.60" y="315.70" font-size="12.2" text-anchor="end" transform="rotate(-90 145.60 315.70)" fill="#000">8</text>
<line x1="153.50" y1="308.30" x2="153.50" y2="312.50" stroke="#000" stroke-width="1"/>
<text x="157.70" y="315.70" font-size="12.2" text-anchor="end" transform="rotate(-90 157.70 315.70)" fill="#000">9</text>
<line x1="165.50" y1="308.30" x2="165.50" y2="312.50" stroke="#000" stroke-width="1"/>
<text x="169.80" y="315.70" font-size="12.2" text-anchor="end" transform="rotate(-90 169.80 315.70)" fill="#000">10</text>
<line x1="177.50" y1="308.30" x2="177.50" y2="312.50" stroke="#000" stroke-width="1"/>
<text x="181.90" y="315.70" font-size="12.2" text-anchor="end" transform="rotate(-90 181.90 315.70)" fill="#000">11</text>
<line x1="189.50" y1="308.30" x2="189.50" y2="312.50" stroke="#000" stroke-width="1"/>
<text x="194.00" y="315.70" font-size="12.2" text-anchor="end" transform="rotate(-90 194.00 315.70)" fill="#000">12</text>
<line x1="201.50" y1="308.30" x2="201.50" y2="312.50" stroke="#000" stroke-width="1"/>
<text x="206.10" y="315.70" font-size="12.2" text-anchor="end" transform="rotate(-90 206.10 315.70)" fill="#000">13</text>
<line x1="213.50" y1="308.30" x2="213.50" y2="312.50" stroke="#000" stroke-width="1"/>
<text x="218.20" y="315.70" font-size="12.2" text-anchor="end" transform="rotate(-90 218.20 315.70)" fill="#000">14</text>
<line x1="225.50" y1="308.30" x2="225.50" y2="312.50" stroke="#000" stroke-width="1"/>
<text x="230.30" y="315.70" font-size="12.2" text-anchor="end" transform="rotate(-90 230.30 315.70)" fill="#000">15</text>
<line x1="238.50" y1="308.30" x2="238.50" y2="312.50" stroke="#000" stroke-width="1"/>
<text x="242.40" y="315.70" font-size="12.2" text-anchor="end" transform="rotate(-90 242.40 315.70)" fill="#000">16</text>
<line x1="250.50" y1="308.30" x2="250.50" y2="312.50" stroke="#000" stroke-width="1"/>
<text x="254.50" y="315.70" font-size="12.2" text-anchor="end" transform="rotate(-90 254.50 315.70)" fill="#000">17</text>
<line x1="262.50" y1="308.30" x2="262.50" y2="312.50" stroke="#000" stroke-width="1"/>
<text x="266.60" y="315.70" font-size="12.2" text-anchor="end" transform="rotate(-90 266.60 315.70)" fill="#000">18</text>
<line x1="274.50" y1="308.30" x2="274.50" y2="312.50" stroke="#000" stroke-width="1"/>
<text x="278.70" y="315.70" font-size="12.2" text-anchor="end" transform="rotate(-90 278.70 315.70)" fill="#000">19</text>
<line x1="286.50" y1="308.30" x2="286.50" y2="312.50" stroke="#000" stroke-width="1"/>
<text x="290.80" y="315.70" font-size="12.2" text-anchor="end" transform="rotate(-90 290.80 315.70)" fill="#000">20</text>
<line x1="298.50" y1="308.30" x2="298.50" y2="312.50" stroke="#000" stroke-width="1"/>
<text x="302.90" y="315.70" font-size="12.2" text-anchor="end" transform="rotate(-90 302.90 315.70)" fill="#000">21</text>
<line x1="310.50" y1="308.30" x2="310.50" y2="312.50" stroke="#000" stroke-width="1"/>
<text x="315.00" y="315.70" font-size="12.2" text-anchor="end" transform="rotate(-90 315.00 315.70)" fill="#000">22</text>
<line x1="322.50" y1="308.30" x2="322.50" y2="312.50" stroke="#000" stroke-width="1"/>
<text x="327.10" y="315.70" font-size="12.2" text-anchor="end" transform="rotate(-90 327.10 315.70)" fill="#000">23</text>
<line x1="334.50" y1="308.30" x2="334.50" y2="312.50" stroke="#000" stroke-width="1"/>
<text x="339.20" y="315.70" font-size="12.2" text-anchor="end" transform="rotate(-90 339.20 315.70)" fill="#000">24</text>
<line x1="50.50" y1="199.90" x2="50.50" y2="308.80" stroke="#000" stroke-width="1.1"/>
<line x1="50.00" y1="308.30" x2="340.90" y2="308.30" stroke="#000" stroke-width="1.3"/>
<line x1="50.40" y1="308.30" x2="54.60" y2="308.30" stroke="#000" stroke-width="1"/>
<text x="46.20" y="312.60" font-size="12" text-anchor="end" fill="#000">0</text>
<line x1="50.40" y1="256.80" x2="54.60" y2="256.80" stroke="#000" stroke-width="1"/>
<text x="46.20" y="261.10" font-size="12" text-anchor="end" fill="#000">200</text>
<line x1="50.40" y1="205.30" x2="54.60" y2="205.30" stroke="#000" stroke-width="1"/>
<text x="46.20" y="209.60" font-size="12" text-anchor="end" fill="#000">400</text>
<text x="16.90" y="260.00" font-size="11.8" text-anchor="middle" transform="rotate(-90 16.90 260.00)" fill="#000">SEAP / (U L<tspan font-size="7.1" dy="-4">-1</tspan><tspan dy="4">)</tspan></text>
<text x="146.00" y="342.20" font-size="11.8" text-anchor="start" fill="#000">BLUE<tspan font-size="7" dy="3.4">SINGLE</tspan><tspan dy="-3.4"> clone #</tspan></text>
<rect x="343.40" y="191.90" width="0.00" height="0.00" fill="#f2f2f2"/>
<rect x="395.60" y="307.42" width="4.30" height="0.48" fill="#22b0f5"/>
<rect x="399.90" y="307.42" width="4.20" height="0.48" fill="#000"/>
<circle cx="397.10" cy="307.42" r="2.75" fill="rgba(40,40,40,0.57)" clip-path="url(#c393)"/>
<circle cx="402.80" cy="307.42" r="2.90" fill="rgba(110,110,110,0.68)" clip-path="url(#c393)"/>
<rect x="407.70" y="301.44" width="4.30" height="6.46" fill="#22b0f5"/>
<rect x="412.00" y="303.05" width="4.20" height="4.84" fill="#000"/>
<circle cx="409.20" cy="299.82" r="2.75" fill="rgba(40,40,40,0.57)" clip-path="url(#c393)"/>
<circle cx="409.20" cy="303.05" r="2.75" fill="rgba(40,40,40,0.57)" clip-path="url(#c393)"/>
<circle cx="414.90" cy="299.82" r="2.90" fill="rgba(110,110,110,0.68)" clip-path="url(#c393)"/>
<circle cx="414.90" cy="301.44" r="2.90" fill="rgba(110,110,110,0.68)" clip-path="url(#c393)"/>
<rect x="419.80" y="307.42" width="4.30" height="0.48" fill="#22b0f5"/>
<rect x="424.10" y="307.42" width="4.20" height="0.48" fill="#000"/>
<circle cx="421.30" cy="307.42" r="2.75" fill="rgba(40,40,40,0.57)" clip-path="url(#c393)"/>
<circle cx="427.00" cy="307.42" r="2.90" fill="rgba(110,110,110,0.68)" clip-path="url(#c393)"/>
<rect x="431.90" y="307.42" width="4.30" height="0.48" fill="#22b0f5"/>
<rect x="436.20" y="307.42" width="4.20" height="0.48" fill="#000"/>
<circle cx="433.40" cy="307.42" r="2.75" fill="rgba(40,40,40,0.57)" clip-path="url(#c393)"/>
<circle cx="439.10" cy="307.42" r="2.90" fill="rgba(110,110,110,0.68)" clip-path="url(#c393)"/>
<rect x="444.00" y="307.42" width="4.30" height="0.48" fill="#22b0f5"/>
<rect x="448.30" y="307.42" width="4.20" height="0.48" fill="#000"/>
<circle cx="445.50" cy="307.42" r="2.75" fill="rgba(40,40,40,0.57)" clip-path="url(#c393)"/>
<circle cx="451.20" cy="307.42" r="2.90" fill="rgba(110,110,110,0.68)" clip-path="url(#c393)"/>
<rect x="456.10" y="299.82" width="4.30" height="8.07" fill="#22b0f5"/>
<rect x="460.40" y="303.05" width="4.20" height="4.84" fill="#000"/>
<circle cx="457.60" cy="296.59" r="2.75" fill="rgba(40,40,40,0.57)" clip-path="url(#c393)"/>
<circle cx="457.60" cy="303.05" r="2.75" fill="rgba(40,40,40,0.57)" clip-path="url(#c393)"/>
<circle cx="463.30" cy="299.82" r="2.90" fill="rgba(110,110,110,0.68)" clip-path="url(#c393)"/>
<circle cx="463.30" cy="303.05" r="2.90" fill="rgba(110,110,110,0.68)" clip-path="url(#c393)"/>
<rect x="468.20" y="301.44" width="4.30" height="6.46" fill="#22b0f5"/>
<rect x="472.50" y="299.82" width="4.20" height="8.07" fill="#000"/>
<circle cx="469.70" cy="299.82" r="2.75" fill="rgba(40,40,40,0.57)" clip-path="url(#c393)"/>
<circle cx="469.70" cy="303.05" r="2.75" fill="rgba(40,40,40,0.57)" clip-path="url(#c393)"/>
<circle cx="475.40" cy="298.21" r="2.90" fill="rgba(110,110,110,0.68)" clip-path="url(#c393)"/>
<circle cx="475.40" cy="301.44" r="2.90" fill="rgba(110,110,110,0.68)" clip-path="url(#c393)"/>
<rect x="480.30" y="219.07" width="4.30" height="88.83" fill="#22b0f5"/>
<rect x="484.60" y="307.09" width="4.20" height="0.81" fill="#000"/>
<circle cx="481.80" cy="204.54" r="2.75" fill="rgba(40,40,40,0.57)" clip-path="url(#c393)"/>
<circle cx="481.80" cy="233.61" r="2.75" fill="rgba(40,40,40,0.57)" clip-path="url(#c393)"/>
<circle cx="487.50" cy="307.09" r="2.90" fill="rgba(110,110,110,0.68)" clip-path="url(#c393)"/>
<rect x="492.40" y="261.06" width="4.30" height="46.84" fill="#22b0f5"/>
<rect x="496.70" y="307.09" width="4.20" height="0.81" fill="#000"/>
<circle cx="493.90" cy="254.60" r="2.75" fill="rgba(40,40,40,0.57)" clip-path="url(#c393)"/>
<circle cx="493.90" cy="267.52" r="2.75" fill="rgba(40,40,40,0.57)" clip-path="url(#c393)"/>
<circle cx="499.60" cy="307.09" r="2.90" fill="rgba(110,110,110,0.68)" clip-path="url(#c393)"/>
<rect x="504.50" y="303.05" width="4.30" height="4.84" fill="#22b0f5"/>
<rect x="508.80" y="303.05" width="4.20" height="4.84" fill="#000"/>
<circle cx="506.00" cy="301.44" r="2.75" fill="rgba(40,40,40,0.57)" clip-path="url(#c393)"/>
<circle cx="506.00" cy="304.67" r="2.75" fill="rgba(40,40,40,0.57)" clip-path="url(#c393)"/>
<circle cx="511.70" cy="299.82" r="2.90" fill="rgba(110,110,110,0.68)" clip-path="url(#c393)"/>
<circle cx="511.70" cy="303.05" r="2.90" fill="rgba(110,110,110,0.68)" clip-path="url(#c393)"/>
<rect x="516.60" y="306.28" width="4.30" height="1.61" fill="#22b0f5"/>
<rect x="520.90" y="307.42" width="4.20" height="0.48" fill="#000"/>
<circle cx="518.10" cy="306.28" r="2.75" fill="rgba(40,40,40,0.57)" clip-path="url(#c393)"/>
<circle cx="523.80" cy="307.42" r="2.90" fill="rgba(110,110,110,0.68)" clip-path="url(#c393)"/>
<rect x="528.70" y="301.44" width="4.30" height="6.46" fill="#22b0f5"/>
<rect x="533.00" y="306.28" width="4.20" height="1.61" fill="#000"/>
<circle cx="530.20" cy="298.21" r="2.75" fill="rgba(40,40,40,0.57)" clip-path="url(#c393)"/>
<circle cx="530.20" cy="301.44" r="2.75" fill="rgba(40,40,40,0.57)" clip-path="url(#c393)"/>
<circle cx="535.90" cy="304.67" r="2.90" fill="rgba(110,110,110,0.68)" clip-path="url(#c393)"/>
<rect x="540.80" y="306.28" width="4.30" height="1.61" fill="#22b0f5"/>
<rect x="545.10" y="307.42" width="4.20" height="0.48" fill="#000"/>
<circle cx="542.30" cy="305.48" r="2.75" fill="rgba(40,40,40,0.57)" clip-path="url(#c393)"/>
<circle cx="542.30" cy="306.28" r="2.75" fill="rgba(40,40,40,0.57)" clip-path="url(#c393)"/>
<circle cx="548.00" cy="307.42" r="2.90" fill="rgba(110,110,110,0.68)" clip-path="url(#c393)"/>
<rect x="552.90" y="307.42" width="4.30" height="0.48" fill="#22b0f5"/>
<rect x="557.20" y="307.42" width="4.20" height="0.48" fill="#000"/>
<circle cx="554.40" cy="307.42" r="2.75" fill="rgba(40,40,40,0.57)" clip-path="url(#c393)"/>
<circle cx="560.10" cy="307.42" r="2.90" fill="rgba(110,110,110,0.68)" clip-path="url(#c393)"/>
<rect x="565.00" y="303.05" width="4.30" height="4.84" fill="#22b0f5"/>
<rect x="569.30" y="307.09" width="4.20" height="0.81" fill="#000"/>
<circle cx="566.50" cy="301.44" r="2.75" fill="rgba(40,40,40,0.57)" clip-path="url(#c393)"/>
<circle cx="566.50" cy="303.05" r="2.75" fill="rgba(40,40,40,0.57)" clip-path="url(#c393)"/>
<circle cx="572.20" cy="307.09" r="2.90" fill="rgba(110,110,110,0.68)" clip-path="url(#c393)"/>
<rect x="577.10" y="235.87" width="4.30" height="72.03" fill="#22b0f5"/>
<rect x="581.40" y="296.27" width="4.20" height="11.63" fill="#000"/>
<circle cx="578.60" cy="229.09" r="2.75" fill="rgba(40,40,40,0.57)" clip-path="url(#c393)"/>
<circle cx="578.60" cy="242.65" r="2.75" fill="rgba(40,40,40,0.57)" clip-path="url(#c393)"/>
<circle cx="584.30" cy="291.75" r="2.90" fill="rgba(110,110,110,0.68)" clip-path="url(#c393)"/>
<circle cx="584.30" cy="296.59" r="2.90" fill="rgba(110,110,110,0.68)" clip-path="url(#c393)"/>
<rect x="589.20" y="303.05" width="4.30" height="4.84" fill="#22b0f5"/>
<rect x="593.50" y="301.44" width="4.20" height="6.46" fill="#000"/>
<circle cx="590.70" cy="301.44" r="2.75" fill="rgba(40,40,40,0.57)" clip-path="url(#c393)"/>
<circle cx="596.40" cy="299.82" r="2.90" fill="rgba(110,110,110,0.68)" clip-path="url(#c393)"/>
<circle cx="596.40" cy="301.44" r="2.90" fill="rgba(110,110,110,0.68)" clip-path="url(#c393)"/>
<rect x="601.30" y="238.13" width="4.30" height="69.77" fill="#22b0f5"/>
<rect x="605.60" y="307.09" width="4.20" height="0.81" fill="#000"/>
<circle cx="602.80" cy="232.96" r="2.75" fill="rgba(40,40,40,0.57)" clip-path="url(#c393)"/>
<circle cx="602.80" cy="238.45" r="2.75" fill="rgba(40,40,40,0.57)" clip-path="url(#c393)"/>
<circle cx="608.50" cy="307.09" r="2.90" fill="rgba(110,110,110,0.68)" clip-path="url(#c393)"/>
<rect x="613.40" y="277.21" width="4.30" height="30.68" fill="#22b0f5"/>
<rect x="617.70" y="307.09" width="4.20" height="0.81" fill="#000"/>
<circle cx="614.90" cy="275.92" r="2.75" fill="rgba(40,40,40,0.57)" clip-path="url(#c393)"/>
<circle cx="614.90" cy="277.21" r="2.75" fill="rgba(40,40,40,0.57)" clip-path="url(#c393)"/>
<circle cx="620.60" cy="307.09" r="2.90" fill="rgba(110,110,110,0.68)" clip-path="url(#c393)"/>
<rect x="625.50" y="301.44" width="4.30" height="6.46" fill="#22b0f5"/>
<rect x="629.80" y="299.82" width="4.20" height="8.07" fill="#000"/>
<circle cx="627.00" cy="299.82" r="2.75" fill="rgba(40,40,40,0.57)" clip-path="url(#c393)"/>
<circle cx="627.00" cy="301.44" r="2.75" fill="rgba(40,40,40,0.57)" clip-path="url(#c393)"/>
<circle cx="632.70" cy="298.21" r="2.90" fill="rgba(110,110,110,0.68)" clip-path="url(#c393)"/>
<circle cx="632.70" cy="301.44" r="2.90" fill="rgba(110,110,110,0.68)" clip-path="url(#c393)"/>
<rect x="637.60" y="307.09" width="4.30" height="0.81" fill="#22b0f5"/>
<rect x="641.90" y="307.42" width="4.20" height="0.48" fill="#000"/>
<circle cx="639.10" cy="307.09" r="2.75" fill="rgba(40,40,40,0.57)" clip-path="url(#c393)"/>
<circle cx="644.80" cy="307.42" r="2.90" fill="rgba(110,110,110,0.68)" clip-path="url(#c393)"/>
<rect x="649.70" y="307.09" width="4.30" height="0.81" fill="#22b0f5"/>
<rect x="654.00" y="307.42" width="4.20" height="0.48" fill="#000"/>
<circle cx="651.20" cy="306.28" r="2.75" fill="rgba(40,40,40,0.57)" clip-path="url(#c393)"/>
<circle cx="656.90" cy="307.42" r="2.90" fill="rgba(110,110,110,0.68)" clip-path="url(#c393)"/>
<rect x="661.80" y="263.97" width="4.30" height="43.93" fill="#22b0f5"/>
<rect x="666.10" y="307.09" width="4.20" height="0.81" fill="#000"/>
<circle cx="663.30" cy="255.57" r="2.75" fill="rgba(40,40,40,0.57)" clip-path="url(#c393)"/>
<circle cx="663.30" cy="271.40" r="2.75" fill="rgba(40,40,40,0.57)" clip-path="url(#c393)"/>
<circle cx="669.00" cy="307.09" r="2.90" fill="rgba(110,110,110,0.68)" clip-path="url(#c393)"/>
<rect x="673.90" y="307.42" width="4.30" height="0.48" fill="#22b0f5"/>
<rect x="678.20" y="307.42" width="4.20" height="0.48" fill="#000"/>
<circle cx="675.40" cy="307.42" r="2.75" fill="rgba(40,40,40,0.57)" clip-path="url(#c393)"/>
<circle cx="681.10" cy="307.42" r="2.90" fill="rgba(110,110,110,0.68)" clip-path="url(#c393)"/>
<line x1="399.50" y1="307.90" x2="399.50" y2="312.10" stroke="#000" stroke-width="1"/>
<text x="403.50" y="316.50" font-size="12.2" text-anchor="end" transform="rotate(-90 403.50 316.50)" fill="#000">1</text>
<line x1="412.50" y1="307.90" x2="412.50" y2="312.10" stroke="#000" stroke-width="1"/>
<text x="415.60" y="316.50" font-size="12.2" text-anchor="end" transform="rotate(-90 415.60 316.50)" fill="#000">2</text>
<line x1="424.50" y1="307.90" x2="424.50" y2="312.10" stroke="#000" stroke-width="1"/>
<text x="427.70" y="316.50" font-size="12.2" text-anchor="end" transform="rotate(-90 427.70 316.50)" fill="#000">3</text>
<line x1="436.50" y1="307.90" x2="436.50" y2="312.10" stroke="#000" stroke-width="1"/>
<text x="439.80" y="316.50" font-size="12.2" text-anchor="end" transform="rotate(-90 439.80 316.50)" fill="#000">4</text>
<line x1="448.50" y1="307.90" x2="448.50" y2="312.10" stroke="#000" stroke-width="1"/>
<text x="451.90" y="316.50" font-size="12.2" text-anchor="end" transform="rotate(-90 451.90 316.50)" fill="#000">5</text>
<line x1="460.50" y1="307.90" x2="460.50" y2="312.10" stroke="#000" stroke-width="1"/>
<text x="464.00" y="316.50" font-size="12.2" text-anchor="end" transform="rotate(-90 464.00 316.50)" fill="#000">6</text>
<line x1="472.50" y1="307.90" x2="472.50" y2="312.10" stroke="#000" stroke-width="1"/>
<text x="476.10" y="316.50" font-size="12.2" text-anchor="end" transform="rotate(-90 476.10 316.50)" fill="#000">7</text>
<line x1="484.50" y1="307.90" x2="484.50" y2="312.10" stroke="#000" stroke-width="1"/>
<text x="488.20" y="316.50" font-size="12.2" text-anchor="end" transform="rotate(-90 488.20 316.50)" fill="#000">8</text>
<line x1="496.50" y1="307.90" x2="496.50" y2="312.10" stroke="#000" stroke-width="1"/>
<text x="500.30" y="316.50" font-size="12.2" text-anchor="end" transform="rotate(-90 500.30 316.50)" fill="#000">9</text>
<line x1="508.50" y1="307.90" x2="508.50" y2="312.10" stroke="#000" stroke-width="1"/>
<text x="512.40" y="316.50" font-size="12.2" text-anchor="end" transform="rotate(-90 512.40 316.50)" fill="#000">10</text>
<line x1="520.50" y1="307.90" x2="520.50" y2="312.10" stroke="#000" stroke-width="1"/>
<text x="524.50" y="316.50" font-size="12.2" text-anchor="end" transform="rotate(-90 524.50 316.50)" fill="#000">11</text>
<line x1="533.50" y1="307.90" x2="533.50" y2="312.10" stroke="#000" stroke-width="1"/>
<text x="536.60" y="316.50" font-size="12.2" text-anchor="end" transform="rotate(-90 536.60 316.50)" fill="#000">12</text>
<line x1="545.50" y1="307.90" x2="545.50" y2="312.10" stroke="#000" stroke-width="1"/>
<text x="548.70" y="316.50" font-size="12.2" text-anchor="end" transform="rotate(-90 548.70 316.50)" fill="#000">13</text>
<line x1="557.50" y1="307.90" x2="557.50" y2="312.10" stroke="#000" stroke-width="1"/>
<text x="560.80" y="316.50" font-size="12.2" text-anchor="end" transform="rotate(-90 560.80 316.50)" fill="#000">14</text>
<line x1="569.50" y1="307.90" x2="569.50" y2="312.10" stroke="#000" stroke-width="1"/>
<text x="572.90" y="316.50" font-size="12.2" text-anchor="end" transform="rotate(-90 572.90 316.50)" fill="#000">15</text>
<line x1="581.50" y1="307.90" x2="581.50" y2="312.10" stroke="#000" stroke-width="1"/>
<text x="585.00" y="316.50" font-size="12.2" text-anchor="end" transform="rotate(-90 585.00 316.50)" fill="#000">16</text>
<line x1="593.50" y1="307.90" x2="593.50" y2="312.10" stroke="#000" stroke-width="1"/>
<text x="597.10" y="316.50" font-size="12.2" text-anchor="end" transform="rotate(-90 597.10 316.50)" fill="#000">17</text>
<line x1="605.50" y1="307.90" x2="605.50" y2="312.10" stroke="#000" stroke-width="1"/>
<text x="609.20" y="316.50" font-size="12.2" text-anchor="end" transform="rotate(-90 609.20 316.50)" fill="#000">18</text>
<line x1="617.50" y1="307.90" x2="617.50" y2="312.10" stroke="#000" stroke-width="1"/>
<text x="621.30" y="316.50" font-size="12.2" text-anchor="end" transform="rotate(-90 621.30 316.50)" fill="#000">19</text>
<line x1="629.50" y1="307.90" x2="629.50" y2="312.10" stroke="#000" stroke-width="1"/>
<text x="633.40" y="316.50" font-size="12.2" text-anchor="end" transform="rotate(-90 633.40 316.50)" fill="#000">20</text>
<line x1="641.50" y1="307.90" x2="641.50" y2="312.10" stroke="#000" stroke-width="1"/>
<text x="645.50" y="316.50" font-size="12.2" text-anchor="end" transform="rotate(-90 645.50 316.50)" fill="#000">21</text>
<line x1="654.50" y1="307.90" x2="654.50" y2="312.10" stroke="#000" stroke-width="1"/>
<text x="657.60" y="316.50" font-size="12.2" text-anchor="end" transform="rotate(-90 657.60 316.50)" fill="#000">22</text>
<line x1="666.50" y1="307.90" x2="666.50" y2="312.10" stroke="#000" stroke-width="1"/>
<text x="669.70" y="316.50" font-size="12.2" text-anchor="end" transform="rotate(-90 669.70 316.50)" fill="#000">23</text>
<line x1="678.50" y1="307.90" x2="678.50" y2="312.10" stroke="#000" stroke-width="1"/>
<text x="681.80" y="316.50" font-size="12.2" text-anchor="end" transform="rotate(-90 681.80 316.50)" fill="#000">24</text>
<line x1="393.50" y1="199.50" x2="393.50" y2="308.40" stroke="#000" stroke-width="1.1"/>
<line x1="393.00" y1="307.90" x2="684.30" y2="307.90" stroke="#000" stroke-width="1.3"/>
<line x1="393.80" y1="307.90" x2="398.00" y2="307.90" stroke="#000" stroke-width="1"/>
<text x="389.60" y="312.20" font-size="12" text-anchor="end" fill="#000">0</text>
<line x1="393.80" y1="275.60" x2="398.00" y2="275.60" stroke="#000" stroke-width="1"/>
<text x="389.60" y="279.90" font-size="12" text-anchor="end" fill="#000">20</text>
<line x1="393.80" y1="243.30" x2="398.00" y2="243.30" stroke="#000" stroke-width="1"/>
<text x="389.60" y="247.60" font-size="12" text-anchor="end" fill="#000">40</text>
<line x1="393.80" y1="211.00" x2="398.00" y2="211.00" stroke="#000" stroke-width="1"/>
<text x="389.60" y="215.30" font-size="12" text-anchor="end" fill="#000">60</text>
<text x="365.70" y="260.30" font-size="11.8" text-anchor="middle" transform="rotate(-90 365.70 260.30)" fill="#000">SEAP / (U L<tspan font-size="7.1" dy="-4">-1</tspan><tspan dy="4">)</tspan></text>
<text x="493.60" y="342.20" font-size="11.8" text-anchor="start" fill="#000">BLUE<tspan font-size="7" dy="3.4">DUAL</tspan><tspan dy="-3.4"> clone #</tspan></text>
<rect x="58.00" y="200.80" width="24.20" height="8.20" fill="#4141e6"/>
<rect x="58.00" y="217.50" width="24.20" height="8.20" fill="#000"/>
<text x="91.30" y="208.80" font-size="11.5" text-anchor="start" fill="#000">455 nm</text>
<text x="91.30" y="225.60" font-size="11.5" text-anchor="start" fill="#000">Dark</text>
<rect x="401.20" y="200.80" width="23.80" height="8.20" fill="#22b0f5"/>
<rect x="401.20" y="217.50" width="23.80" height="8.20" fill="#000"/>
<text x="434.00" y="208.80" font-size="11.5" text-anchor="start" fill="#000">455 nm</text>
<text x="434.00" y="225.60" font-size="11.5" text-anchor="start" fill="#000">Dark</text>
<text x="47.00" y="372.00" font-size="14" text-anchor="start" fill="#000">D</text>
<line x1="93.00" y1="367.90" x2="93.00" y2="481.60" stroke="#666" stroke-width="1.5"/>
<line x1="92.30" y1="480.90" x2="199.00" y2="480.90" stroke="#666" stroke-width="1.5"/>
<line x1="93.00" y1="475.90" x2="96.80" y2="475.90" stroke="#333" stroke-width="1.1"/>
<text x="88.50" y="480.40" font-size="12" text-anchor="end" fill="#000">0</text>
<line x1="93.00" y1="437.10" x2="96.80" y2="437.10" stroke="#333" stroke-width="1.1"/>
<text x="88.50" y="441.60" font-size="12" text-anchor="end" fill="#000">200</text>
<line x1="93.00" y1="398.30" x2="96.80" y2="398.30" stroke="#333" stroke-width="1.1"/>
<text x="88.50" y="402.80" font-size="12" text-anchor="end" fill="#000">400</text>
<line x1="97.50" y1="481.00" x2="97.50" y2="484.60" stroke="#555" stroke-width="1.1"/>
<text x="97.50" y="497.10" font-size="12.2" text-anchor="middle" fill="#000">2</text>
<line x1="121.50" y1="481.00" x2="121.50" y2="484.60" stroke="#555" stroke-width="1.1"/>
<text x="121.50" y="497.10" font-size="12.2" text-anchor="middle" fill="#000">4</text>
<line x1="145.60" y1="481.00" x2="145.60" y2="484.60" stroke="#555" stroke-width="1.1"/>
<text x="145.60" y="497.10" font-size="12.2" text-anchor="middle" fill="#000">8</text>
<line x1="169.70" y1="481.00" x2="169.70" y2="484.60" stroke="#555" stroke-width="1.1"/>
<text x="169.70" y="497.10" font-size="12.2" text-anchor="middle" fill="#000">16</text>
<line x1="193.80" y1="481.00" x2="193.80" y2="484.60" stroke="#555" stroke-width="1.1"/>
<text x="193.80" y="497.10" font-size="12.2" text-anchor="middle" fill="#000">32</text>
<text x="147.30" y="513.60" font-size="12" text-anchor="middle" fill="#000">Time / h</text>
<text x="60.80" y="424.00" font-size="11.8" text-anchor="middle" transform="rotate(-90 60.80 424.00)" fill="#000">SEAP / (U L<tspan font-size="7.1" dy="-4">-1</tspan><tspan dy="4">)</tspan></text>
<polygon points="97.50,475.71 121.50,475.28 145.60,468.88 169.70,450.31 193.80,373.06 193.80,420.49 169.70,471.28 145.60,475.24 121.50,475.74 97.50,475.90" fill="#b4cdf0" fill-opacity="0.45"/>
<polygon points="97.50,475.71 121.50,475.49 145.60,474.84 169.70,469.62 193.80,402.70 193.80,421.15 169.70,471.34 145.60,475.25 121.50,475.74 97.50,475.90" fill="#9cbcec" fill-opacity="0.4"/>
<polygon points="97.50,475.71 121.50,475.27 145.60,469.19 169.70,452.89 193.80,384.67 193.80,407.62 169.70,458.79 145.60,471.01 121.50,475.57 97.50,475.90" fill="#9cbcec" fill-opacity="0.4"/>
<polygon points="97.50,475.71 121.50,475.27 145.60,468.75 169.70,449.85 193.80,371.19 193.80,397.52 169.70,456.51 145.60,470.69 121.50,475.57 97.50,475.90" fill="#9cbcec" fill-opacity="0.4"/>
<polygon points="97.50,475.71 121.50,475.27 145.60,469.84 169.70,456.59 193.80,390.10 193.80,411.69 169.70,461.56 145.60,471.50 121.50,475.57 97.50,475.90" fill="#9cbcec" fill-opacity="0.4"/>
<polyline points="97.50,475.90 121.50,475.71 145.60,475.12 169.70,470.47 193.80,410.72" fill="none" stroke="#3737f2" stroke-width="1.8"/>
<polyline points="97.50,475.90 121.50,475.51 145.60,470.08 169.70,455.53 193.80,394.61" fill="none" stroke="#2f4fe0" stroke-width="1.8"/>
<polyline points="97.50,475.90 121.50,475.51 145.60,469.69 169.70,452.81 193.80,382.59" fill="none" stroke="#2c6cb8" stroke-width="1.8"/>
<polyline points="97.50,475.90 121.50,475.51 145.60,470.66 169.70,458.83 193.80,399.46" fill="none" stroke="#4a9ad6" stroke-width="1.8"/>
<circle cx="169.70" cy="470.47" r="3.30" fill="#3737f2" stroke="#fff" stroke-width="0.7"/>
<circle cx="193.80" cy="410.72" r="3.30" fill="#3737f2" stroke="#fff" stroke-width="0.7"/>
<circle cx="145.60" cy="470.08" r="3.30" fill="#2f4fe0" stroke="#fff" stroke-width="0.7"/>
<circle cx="169.70" cy="455.53" r="3.30" fill="#2f4fe0" stroke="#fff" stroke-width="0.7"/>
<circle cx="193.80" cy="394.61" r="3.30" fill="#2f4fe0" stroke="#fff" stroke-width="0.7"/>
<circle cx="145.60" cy="469.69" r="3.30" fill="#2c6cb8" stroke="#fff" stroke-width="0.7"/>
<circle cx="169.70" cy="452.81" r="3.30" fill="#2c6cb8" stroke="#fff" stroke-width="0.7"/>
<circle cx="193.80" cy="382.59" r="3.30" fill="#2c6cb8" stroke="#fff" stroke-width="0.7"/>
<circle cx="145.60" cy="470.66" r="3.30" fill="#4a9ad6" stroke="#fff" stroke-width="0.7"/>
<circle cx="169.70" cy="458.83" r="3.30" fill="#4a9ad6" stroke="#fff" stroke-width="0.7"/>
<circle cx="193.80" cy="399.46" r="3.30" fill="#4a9ad6" stroke="#fff" stroke-width="0.7"/>
<polyline points="97.50,475.90 121.50,475.90 145.60,475.90 169.70,475.71 193.80,474.93" fill="none" stroke="#000" stroke-width="2.4"/>
<circle cx="97.50" cy="475.90" r="3.20" fill="#000" stroke="#fff" stroke-width="0.7"/>
<circle cx="121.50" cy="475.90" r="3.20" fill="#000" stroke="#fff" stroke-width="0.7"/>
<circle cx="145.60" cy="475.90" r="3.20" fill="#000" stroke="#fff" stroke-width="0.7"/>
<circle cx="169.70" cy="475.71" r="3.20" fill="#000" stroke="#fff" stroke-width="0.7"/>
<circle cx="193.80" cy="474.93" r="3.20" fill="#000" stroke="#fff" stroke-width="0.7"/>
<line x1="103.00" y1="383.30" x2="127.80" y2="383.30" stroke="#4a90d0" stroke-width="1.8"/>
<line x1="103.00" y1="400.00" x2="127.80" y2="400.00" stroke="#000" stroke-width="1.8"/>
<text x="137.00" y="387.50" font-size="11.5" text-anchor="start" fill="#000">455 nm</text>
<text x="137.00" y="404.40" font-size="11.5" text-anchor="start" fill="#000">Dark</text>
<text x="202.70" y="386.20" font-size="11.5" text-anchor="start" fill="#000"># 14</text>
<text x="202.70" y="396.00" font-size="11.5" text-anchor="start" fill="#000"># 7</text>
<text x="202.70" y="405.50" font-size="11.5" text-anchor="start" fill="#000"># 21</text>
<text x="202.70" y="415.30" font-size="11.5" text-anchor="start" fill="#000"># 2</text>
<text x="277.10" y="372.00" font-size="14" text-anchor="start" fill="#000">E</text>
<line x1="318.50" y1="367.70" x2="318.50" y2="481.40" stroke="#111" stroke-width="1.2"/>
<line x1="318.00" y1="480.90" x2="413.00" y2="480.90" stroke="#222" stroke-width="1.3"/>
<line x1="316.80" y1="480.90" x2="318.60" y2="480.90" stroke="#111" stroke-width="1.3"/>
<text x="314.60" y="485.90" font-size="12" text-anchor="end" fill="#000">0</text>
<line x1="318.60" y1="433.90" x2="322.80" y2="433.90" stroke="#111" stroke-width="1.1"/>
<text x="314.60" y="438.60" font-size="12" text-anchor="end" fill="#000">50</text>
<line x1="315.00" y1="387.00" x2="318.60" y2="387.00" stroke="#111" stroke-width="1.1"/>
<text x="311.10" y="391.70" font-size="12" text-anchor="end" fill="#000">100</text>
<line x1="323.50" y1="481.00" x2="323.50" y2="484.30" stroke="#000" stroke-width="1"/>
<text x="323.60" y="497.80" font-size="12.2" text-anchor="middle" fill="#000">0</text>
<line x1="336.50" y1="481.00" x2="336.50" y2="484.30" stroke="#000" stroke-width="1"/>
<text x="336.94" y="497.80" font-size="12.2" text-anchor="middle" fill="#000">2</text>
<line x1="350.50" y1="481.00" x2="350.50" y2="484.30" stroke="#000" stroke-width="1"/>
<text x="350.28" y="497.80" font-size="12.2" text-anchor="middle" fill="#000">4</text>
<line x1="363.50" y1="481.00" x2="363.50" y2="484.30" stroke="#000" stroke-width="1"/>
<text x="363.62" y="497.80" font-size="12.2" text-anchor="middle" fill="#000">6</text>
<line x1="376.50" y1="481.00" x2="376.50" y2="484.30" stroke="#000" stroke-width="1"/>
<text x="376.96" y="497.80" font-size="12.2" text-anchor="middle" fill="#000">8</text>
<line x1="390.50" y1="481.00" x2="390.50" y2="484.30" stroke="#000" stroke-width="1"/>
<text x="390.30" y="497.80" font-size="12.2" text-anchor="middle" fill="#000">10</text>
<line x1="403.50" y1="481.00" x2="403.50" y2="484.30" stroke="#000" stroke-width="1"/>
<text x="403.64" y="497.80" font-size="12.2" text-anchor="middle" fill="#000">12</text>
<line x1="416.50" y1="481.00" x2="416.50" y2="484.30" stroke="#000" stroke-width="1"/>
<text x="416.98" y="497.80" font-size="12.2" text-anchor="middle" fill="#000">14</text>
<text x="308.20" y="513.20" font-size="11.75" text-anchor="start" fill="#000">Intensity / (μmol m<tspan font-size="7" dy="-4">-2</tspan><tspan dy="4" dx="1.8">s</tspan><tspan font-size="7" dy="-4">-1</tspan><tspan dy="4">)</tspan></text>
<text x="289.50" y="423.50" font-size="11.8" text-anchor="middle" transform="rotate(-90 289.50 423.50)" fill="#000">SEAP / (U L<tspan font-size="7.1" dy="-4">-1</tspan><tspan dy="4">)</tspan></text>
<polygon points="336.94,471.23 337.61,470.97 338.27,470.69 338.94,470.40 339.61,470.08 340.28,469.74 340.94,469.38 341.61,468.99 342.28,468.58 342.94,468.14 343.61,467.67 344.28,467.17 344.94,466.64 345.61,466.08 346.28,465.47 346.95,464.84 347.61,464.16 348.28,463.44 348.95,462.68 349.61,461.87 350.28,461.02 350.95,460.12 351.61,459.17 352.28,458.17 352.95,457.12 353.62,456.02 354.28,454.87 354.95,453.66 355.62,452.41 356.28,451.10 356.95,449.74 357.62,448.34 358.28,446.88 358.95,445.38 359.62,443.84 360.29,442.25 360.95,440.63 361.62,438.98 362.29,437.30 362.95,435.59 363.62,433.86 364.29,432.12 364.95,430.37 365.62,428.61 366.29,426.85 366.96,425.10 367.62,423.36 368.29,421.64 368.96,419.94 369.62,418.26 370.29,416.61 370.96,415.00 371.62,413.42 372.29,411.89 372.96,410.40 373.62,408.95 374.29,407.56 374.96,406.21 375.63,404.91 376.29,403.66 376.96,402.47 377.63,401.33 378.29,400.24 378.96,399.20 379.63,398.21 380.30,397.27 380.96,396.38 381.63,395.54 382.30,394.74 382.96,393.99 383.63,393.28 384.30,392.61 384.96,391.98 385.63,391.38 386.30,390.82 386.97,390.30 387.63,389.81 388.30,389.34 388.97,388.91 389.63,388.50 390.30,388.12 390.97,387.76 391.63,387.43 392.30,387.12 392.97,386.82 393.63,386.55 394.30,386.29 394.97,386.05 395.64,385.82 396.30,385.61 396.97,385.41 397.64,385.22 398.30,385.05 398.97,384.89 399.64,384.73 400.31,384.59 400.97,384.45 401.64,384.32 402.31,384.20 402.97,384.09 403.64,383.98 404.31,383.88 404.97,383.78 405.64,383.69 406.31,383.60 406.98,383.52 407.64,383.45 408.31,383.37 408.98,383.30 409.64,383.23 410.31,383.17 410.98,383.11 411.64,383.05 412.31,382.99 412.98,382.94 413.65,382.89 414.31,382.84 414.98,382.79 415.65,382.74 416.31,382.70 416.98,382.66 416.98,392.79 416.31,392.79 415.65,392.79 414.98,392.79 414.31,392.79 413.65,392.80 412.98,392.81 412.31,392.82 411.64,392.83 410.98,392.85 410.31,392.87 409.64,392.90 408.98,392.92 408.31,392.96 407.64,393.00 406.98,393.04 406.31,393.09 405.64,393.14 404.97,393.21 404.31,393.27 403.64,393.35 402.97,393.43 402.31,393.53 401.64,393.63 400.97,393.74 400.31,393.86 399.64,394.00 398.97,394.14 398.30,394.30 397.64,394.47 396.97,394.66 396.30,394.87 395.64,395.09 394.97,395.33 394.30,395.59 393.63,395.88 392.97,396.18 392.30,396.51 391.63,396.86 390.97,397.25 390.30,397.66 389.63,398.10 388.97,398.57 388.30,399.07 387.63,399.62 386.97,400.19 386.30,400.81 385.63,401.47 384.96,402.17 384.30,402.92 383.63,403.71 382.96,404.54 382.30,405.43 381.63,406.37 380.96,407.35 380.30,408.39 379.63,409.48 378.96,410.62 378.29,411.81 377.63,413.06 376.96,414.35 376.29,415.70 375.63,417.09 374.96,418.53 374.29,420.01 373.62,421.54 372.96,423.10 372.29,424.69 371.62,426.32 370.96,427.97 370.29,429.64 369.62,431.32 368.96,433.02 368.29,434.73 367.62,436.43 366.96,438.13 366.29,439.82 365.62,441.50 364.95,443.15 364.29,444.78 363.62,446.38 362.95,447.95 362.29,449.48 361.62,450.97 360.95,452.42 360.29,453.82 359.62,455.18 358.95,456.48 358.28,457.74 357.62,458.94 356.95,460.09 356.28,461.19 355.62,462.24 354.95,463.24 354.28,464.18 353.62,465.08 352.95,465.92 352.28,466.72 351.61,467.48 350.95,468.19 350.28,468.85 349.61,469.48 348.95,470.07 348.28,470.62 347.61,471.13 346.95,471.61 346.28,472.05 345.61,472.47 344.94,472.86 344.28,473.22 343.61,473.55 342.94,473.86 342.28,474.15 341.61,474.41 340.94,474.66 340.28,474.88 339.61,475.09 338.94,475.28 338.27,475.46 337.61,475.62 336.94,475.77" fill="#bcbcf8"/>
<polyline points="336.94,473.53 337.61,473.33 338.27,473.11 338.94,472.88 339.61,472.62 340.28,472.35 340.94,472.06 341.61,471.75 342.28,471.41 342.94,471.05 343.61,470.67 344.28,470.25 344.94,469.81 345.61,469.34 346.28,468.83 346.95,468.29 347.61,467.72 348.28,467.11 348.95,466.45 349.61,465.76 350.28,465.02 350.95,464.24 351.61,463.42 352.28,462.54 352.95,461.62 353.62,460.65 354.28,459.63 354.95,458.55 355.62,457.43 356.28,456.25 356.95,455.02 357.62,453.74 358.28,452.41 358.95,451.03 359.62,449.60 360.29,448.12 360.95,446.61 361.62,445.05 362.29,443.45 362.95,441.83 363.62,440.17 364.29,438.49 364.95,436.79 365.62,435.07 366.29,433.35 366.96,431.62 367.62,429.89 368.29,428.16 368.96,426.45 369.62,424.75 370.29,423.08 370.96,421.42 371.62,419.80 372.29,418.22 372.96,416.67 373.62,415.16 374.29,413.69 374.96,412.27 375.63,410.90 376.29,409.58 376.96,408.31 377.63,407.09 378.29,405.92 378.96,404.81 379.63,403.74 380.30,402.73 380.96,401.77 381.63,400.86 382.30,399.99 382.96,399.18 383.63,398.40 384.30,397.68 384.96,396.99 385.63,396.35 386.30,395.74 386.97,395.18 387.63,394.64 388.30,394.14 388.97,393.68 389.63,393.24 390.30,392.83 390.97,392.45 391.63,392.10 392.30,391.77 392.97,391.46 393.63,391.17 394.30,390.90 394.97,390.66 395.64,390.42 396.30,390.21 396.97,390.01 397.64,389.82 398.30,389.65 398.97,389.49 399.64,389.34 400.31,389.20 400.97,389.08 401.64,388.96 402.31,388.85 402.97,388.74 403.64,388.65 404.31,388.56 404.97,388.48 405.64,388.41 406.31,388.34 406.98,388.27 407.64,388.21 408.31,388.16 408.98,388.11 409.64,388.06 410.31,388.01 410.98,387.97 411.64,387.94 412.31,387.90 412.98,387.87 413.65,387.84 414.31,387.81 414.98,387.79 415.65,387.76 416.31,387.74 416.98,387.72" fill="none" stroke="#1c6cbc" stroke-width="2.1"/>
<circle cx="323.60" cy="473.48" r="3.00" fill="rgba(112,112,112,0.8)" stroke="rgba(255,255,255,0.7)" stroke-width="0.6"/>
<circle cx="330.27" cy="475.17" r="3.00" fill="rgba(112,112,112,0.8)" stroke="rgba(255,255,255,0.7)" stroke-width="0.6"/>
<circle cx="336.94" cy="473.11" r="3.00" fill="rgba(112,112,112,0.8)" stroke="rgba(255,255,255,0.7)" stroke-width="0.6"/>
<circle cx="350.28" cy="463.92" r="3.00" fill="rgba(112,112,112,0.8)" stroke="rgba(255,255,255,0.7)" stroke-width="0.6"/>
<circle cx="350.28" cy="466.17" r="3.00" fill="rgba(112,112,112,0.8)" stroke="rgba(255,255,255,0.7)" stroke-width="0.6"/>
<circle cx="363.62" cy="435.87" r="3.00" fill="rgba(112,112,112,0.8)" stroke="rgba(255,255,255,0.7)" stroke-width="0.6"/>
<circle cx="363.62" cy="442.06" r="3.00" fill="rgba(112,112,112,0.8)" stroke="rgba(255,255,255,0.7)" stroke-width="0.6"/>
<circle cx="376.96" cy="397.60" r="3.00" fill="rgba(112,112,112,0.8)" stroke="rgba(255,255,255,0.7)" stroke-width="0.6"/>
<circle cx="376.96" cy="406.70" r="3.00" fill="rgba(112,112,112,0.8)" stroke="rgba(255,255,255,0.7)" stroke-width="0.6"/>
<circle cx="376.96" cy="407.64" r="3.00" fill="rgba(112,112,112,0.8)" stroke="rgba(255,255,255,0.7)" stroke-width="0.6"/>
<circle cx="376.96" cy="416.08" r="3.00" fill="rgba(112,112,112,0.8)" stroke="rgba(255,255,255,0.7)" stroke-width="0.6"/>
<circle cx="390.30" cy="394.97" r="3.00" fill="rgba(112,112,112,0.8)" stroke="rgba(255,255,255,0.7)" stroke-width="0.6"/>
<circle cx="390.30" cy="396.85" r="3.00" fill="rgba(112,112,112,0.8)" stroke="rgba(255,255,255,0.7)" stroke-width="0.6"/>
<circle cx="390.30" cy="403.88" r="3.00" fill="rgba(112,112,112,0.8)" stroke="rgba(255,255,255,0.7)" stroke-width="0.6"/>
<circle cx="403.64" cy="382.31" r="3.00" fill="rgba(112,112,112,0.8)" stroke="rgba(255,255,255,0.7)" stroke-width="0.6"/>
<circle cx="403.64" cy="385.12" r="3.00" fill="rgba(112,112,112,0.8)" stroke="rgba(255,255,255,0.7)" stroke-width="0.6"/>
<circle cx="416.98" cy="383.62" r="3.00" fill="rgba(112,112,112,0.8)" stroke="rgba(255,255,255,0.7)" stroke-width="0.6"/>
<circle cx="416.98" cy="389.25" r="3.00" fill="rgba(112,112,112,0.8)" stroke="rgba(255,255,255,0.7)" stroke-width="0.6"/>
<circle cx="416.98" cy="395.44" r="3.00" fill="rgba(112,112,112,0.8)" stroke="rgba(255,255,255,0.7)" stroke-width="0.6"/>
<circle cx="416.98" cy="397.60" r="3.00" fill="rgba(112,112,112,0.8)" stroke="rgba(255,255,255,0.7)" stroke-width="0.6"/>
<circle cx="416.60" cy="479.80" r="3.30" fill="#000"/>
<text x="416.80" y="474.00" font-size="12.5" text-anchor="middle" fill="#000">E</text>
<text x="399.60" y="375.90" font-size="11.9" text-anchor="start" fill="#000"># 14</text>
<text x="483.60" y="372.00" font-size="14" text-anchor="start" fill="#000">F</text>
<line x1="527.50" y1="372.60" x2="527.50" y2="481.10" stroke="#000" stroke-width="1.1"/>
<line x1="527.00" y1="480.60" x2="633.00" y2="480.60" stroke="#000" stroke-width="1.2"/>
<line x1="527.50" y1="480.60" x2="531.40" y2="480.60" stroke="#000" stroke-width="1"/>
<text x="523.60" y="484.90" font-size="12" text-anchor="end" fill="#000">0</text>
<line x1="527.50" y1="426.60" x2="531.40" y2="426.60" stroke="#000" stroke-width="1"/>
<text x="523.60" y="430.90" font-size="12" text-anchor="end" fill="#000">200</text>
<line x1="527.50" y1="372.60" x2="531.40" y2="372.60" stroke="#000" stroke-width="1"/>
<text x="523.60" y="376.90" font-size="12" text-anchor="end" fill="#000">400</text>
<rect x="529.40" y="463.59" width="4.80" height="17.01" fill="#4141e6"/>
<circle cx="531.90" cy="459.00" r="2.90" fill="rgba(40,40,40,0.57)" clip-path="url(#fclip)"/>
<circle cx="531.90" cy="462.24" r="2.90" fill="rgba(40,40,40,0.57)" clip-path="url(#fclip)"/>
<circle cx="531.90" cy="463.86" r="2.90" fill="rgba(40,40,40,0.57)" clip-path="url(#fclip)"/>
<circle cx="537.40" cy="479.79" r="3.00" fill="rgba(110,110,110,0.68)" clip-path="url(#fclip)"/>
<line x1="534.50" y1="481.00" x2="534.50" y2="484.50" stroke="#000" stroke-width="1"/>
<text x="537.60" y="489.00" font-size="12.2" text-anchor="end" transform="rotate(-90 537.60 489.00)" fill="#000">2</text>
<rect x="542.55" y="462.24" width="4.80" height="18.36" fill="#4141e6"/>
<circle cx="545.05" cy="461.70" r="2.90" fill="rgba(40,40,40,0.57)" clip-path="url(#fclip)"/>
<circle cx="545.05" cy="462.78" r="2.90" fill="rgba(40,40,40,0.57)" clip-path="url(#fclip)"/>
<circle cx="545.05" cy="463.32" r="2.90" fill="rgba(40,40,40,0.57)" clip-path="url(#fclip)"/>
<circle cx="550.55" cy="479.79" r="3.00" fill="rgba(110,110,110,0.68)" clip-path="url(#fclip)"/>
<line x1="547.50" y1="481.00" x2="547.50" y2="484.50" stroke="#000" stroke-width="1"/>
<text x="550.75" y="489.00" font-size="12.2" text-anchor="end" transform="rotate(-90 550.75 489.00)" fill="#000">7</text>
<rect x="555.70" y="429.30" width="4.80" height="51.30" fill="#4141e6"/>
<circle cx="558.20" cy="425.25" r="2.90" fill="rgba(40,40,40,0.57)" clip-path="url(#fclip)"/>
<circle cx="558.20" cy="427.95" r="2.90" fill="rgba(40,40,40,0.57)" clip-path="url(#fclip)"/>
<circle cx="558.20" cy="429.84" r="2.90" fill="rgba(40,40,40,0.57)" clip-path="url(#fclip)"/>
<circle cx="563.70" cy="479.79" r="3.00" fill="rgba(110,110,110,0.68)" clip-path="url(#fclip)"/>
<line x1="560.50" y1="481.00" x2="560.50" y2="484.50" stroke="#000" stroke-width="1"/>
<text x="563.90" y="489.00" font-size="12.2" text-anchor="end" transform="rotate(-90 563.90 489.00)" fill="#000">14</text>
<rect x="568.85" y="404.19" width="4.80" height="76.41" fill="#4141e6"/>
<circle cx="571.35" cy="395.28" r="2.90" fill="rgba(40,40,40,0.57)" clip-path="url(#fclip)"/>
<circle cx="571.35" cy="396.90" r="2.90" fill="rgba(40,40,40,0.57)" clip-path="url(#fclip)"/>
<circle cx="571.35" cy="421.20" r="2.90" fill="rgba(40,40,40,0.57)" clip-path="url(#fclip)"/>
<circle cx="576.85" cy="479.79" r="3.00" fill="rgba(110,110,110,0.68)" clip-path="url(#fclip)"/>
<line x1="573.50" y1="481.00" x2="573.50" y2="484.50" stroke="#000" stroke-width="1"/>
<text x="577.05" y="489.00" font-size="12.2" text-anchor="end" transform="rotate(-90 577.05 489.00)" fill="#000">21</text>
<rect x="582.00" y="469.26" width="4.80" height="11.34" fill="#6fcaf6"/>
<circle cx="584.50" cy="467.10" r="2.90" fill="rgba(40,40,40,0.57)" clip-path="url(#fclip)"/>
<circle cx="584.50" cy="468.45" r="2.90" fill="rgba(40,40,40,0.57)" clip-path="url(#fclip)"/>
<circle cx="584.50" cy="471.15" r="2.90" fill="rgba(40,40,40,0.57)" clip-path="url(#fclip)"/>
<circle cx="590.00" cy="479.79" r="3.00" fill="rgba(110,110,110,0.68)" clip-path="url(#fclip)"/>
<line x1="587.50" y1="481.00" x2="587.50" y2="484.50" stroke="#000" stroke-width="1"/>
<text x="590.20" y="489.00" font-size="12.2" text-anchor="end" transform="rotate(-90 590.20 489.00)" fill="#000">8</text>
<rect x="595.15" y="476.82" width="4.80" height="3.78" fill="#22b0f5"/>
<circle cx="597.65" cy="476.55" r="2.90" fill="rgba(40,40,40,0.57)" clip-path="url(#fclip)"/>
<circle cx="597.65" cy="477.36" r="2.90" fill="rgba(40,40,40,0.57)" clip-path="url(#fclip)"/>
<circle cx="597.65" cy="477.63" r="2.90" fill="rgba(40,40,40,0.57)" clip-path="url(#fclip)"/>
<circle cx="603.15" cy="479.79" r="3.00" fill="rgba(110,110,110,0.68)" clip-path="url(#fclip)"/>
<line x1="600.50" y1="481.00" x2="600.50" y2="484.50" stroke="#000" stroke-width="1"/>
<text x="603.35" y="489.00" font-size="12.2" text-anchor="end" transform="rotate(-90 603.35 489.00)" fill="#000">9</text>
<rect x="608.30" y="471.69" width="4.80" height="8.91" fill="#22b0f5"/>
<circle cx="610.80" cy="470.61" r="2.90" fill="rgba(40,40,40,0.57)" clip-path="url(#fclip)"/>
<circle cx="610.80" cy="471.42" r="2.90" fill="rgba(40,40,40,0.57)" clip-path="url(#fclip)"/>
<circle cx="610.80" cy="473.04" r="2.90" fill="rgba(40,40,40,0.57)" clip-path="url(#fclip)"/>
<circle cx="616.30" cy="479.79" r="3.00" fill="rgba(110,110,110,0.68)" clip-path="url(#fclip)"/>
<line x1="613.50" y1="481.00" x2="613.50" y2="484.50" stroke="#000" stroke-width="1"/>
<text x="616.50" y="489.00" font-size="12.2" text-anchor="end" transform="rotate(-90 616.50 489.00)" fill="#000">16</text>
<rect x="621.45" y="463.59" width="4.80" height="17.01" fill="#22b0f5"/>
<circle cx="623.95" cy="461.70" r="2.90" fill="rgba(40,40,40,0.57)" clip-path="url(#fclip)"/>
<circle cx="623.95" cy="463.05" r="2.90" fill="rgba(40,40,40,0.57)" clip-path="url(#fclip)"/>
<circle cx="623.95" cy="464.40" r="2.90" fill="rgba(40,40,40,0.57)" clip-path="url(#fclip)"/>
<circle cx="629.45" cy="479.79" r="3.00" fill="rgba(110,110,110,0.68)" clip-path="url(#fclip)"/>
<line x1="626.50" y1="481.00" x2="626.50" y2="484.50" stroke="#000" stroke-width="1"/>
<text x="629.65" y="489.00" font-size="12.2" text-anchor="end" transform="rotate(-90 629.65 489.00)" fill="#000">18</text>
<text x="483.20" y="498.80" font-size="11.8" text-anchor="start" fill="#000">Clone #</text>
<line x1="530.00" y1="507.00" x2="579.10" y2="507.00" stroke="#000" stroke-width="1.1"/>
<line x1="582.90" y1="507.00" x2="631.40" y2="507.00" stroke="#000" stroke-width="1.1"/>
<text x="531.20" y="518.90" font-size="12" text-anchor="start" fill="#000">BLUE</text>
<text x="552.60" y="525.80" font-size="7" text-anchor="start" fill="#000">SINGLE</text>
<text x="587.00" y="518.90" font-size="12" text-anchor="start" fill="#000">BLUE</text>
<text x="609.30" y="525.80" font-size="7" text-anchor="start" fill="#000">DUAL</text>
<text x="495.00" y="426.30" font-size="11.8" text-anchor="middle" transform="rotate(-90 495.00 426.30)" fill="#000">SEAP / (U L<tspan font-size="7.1" dy="-4">-1</tspan><tspan dy="4">)</tspan></text>
<polygon points="588.8,378.9 611.8,378.9 588.8,387.8" fill="#4141e6"/>
<polygon points="611.8,378.9 611.8,387.8 588.8,387.8" fill="#22b0f5"/>
<rect x="588.80" y="396.30" width="23.00" height="7.80" fill="#000"/>
<text x="621.90" y="387.80" font-size="11.8" text-anchor="start" fill="#000">455 nm</text>
<text x="621.90" y="404.20" font-size="11.8" text-anchor="start" fill="#000">Dark</text>
<polygon points="530.25,439.15 530.93,440.77 532.68,440.91 531.34,442.06 531.75,443.76 530.25,442.85 528.75,443.76 529.16,442.06 527.82,440.91 529.57,440.77" fill="#000"/>
<polygon points="534.70,439.15 535.38,440.77 537.13,440.91 535.79,442.06 536.20,443.76 534.70,442.85 533.20,443.76 533.61,442.06 532.27,440.91 534.02,440.77" fill="#000"/>
<polygon points="539.15,439.15 539.83,440.77 541.58,440.91 540.24,442.06 540.65,443.76 539.15,442.85 537.65,443.76 538.06,442.06 536.72,440.91 538.47,440.77" fill="#000"/>
<path d="M531.80 454.60V452.20H537.40V454.60" fill="none" stroke="#111" stroke-width="1.05"/>
<polygon points="541.17,441.45 541.85,443.07 543.60,443.21 542.27,444.36 542.67,446.06 541.17,445.15 539.68,446.06 540.08,444.36 538.75,443.21 540.50,443.07" fill="#000"/>
<polygon points="545.62,441.45 546.30,443.07 548.05,443.21 546.72,444.36 547.12,446.06 545.62,445.15 544.13,446.06 544.53,444.36 543.20,443.21 544.95,443.07" fill="#000"/>
<polygon points="550.07,441.45 550.75,443.07 552.50,443.21 551.17,444.36 551.57,446.06 550.07,445.15 548.58,446.06 548.98,444.36 547.65,443.21 549.40,443.07" fill="#000"/>
<polygon points="554.52,441.45 555.20,443.07 556.95,443.21 555.62,444.36 556.02,446.06 554.52,445.15 553.03,446.06 553.43,444.36 552.10,443.21 553.85,443.07" fill="#000"/>
<path d="M544.95 456.60V454.20H550.55V456.60" fill="none" stroke="#111" stroke-width="1.05"/>
<polygon points="554.32,405.25 555.00,406.87 556.75,407.01 555.42,408.16 555.82,409.86 554.32,408.95 552.83,409.86 553.23,408.16 551.90,407.01 553.65,406.87" fill="#000"/>
<polygon points="558.77,405.25 559.45,406.87 561.20,407.01 559.87,408.16 560.27,409.86 558.77,408.95 557.28,409.86 557.68,408.16 556.35,407.01 558.10,406.87" fill="#000"/>
<polygon points="563.22,405.25 563.90,406.87 565.65,407.01 564.32,408.16 564.72,409.86 563.22,408.95 561.73,409.86 562.13,408.16 560.80,407.01 562.55,406.87" fill="#000"/>
<polygon points="567.67,405.25 568.35,406.87 570.10,407.01 568.77,408.16 569.17,409.86 567.67,408.95 566.18,409.86 566.58,408.16 565.25,407.01 567.00,406.87" fill="#000"/>
<path d="M558.10 420.40V418.00H563.70V420.40" fill="none" stroke="#111" stroke-width="1.05"/>
<polygon points="569.70,371.55 570.38,373.17 572.13,373.31 570.79,374.46 571.20,376.16 569.70,375.25 568.20,376.16 568.61,374.46 567.27,373.31 569.02,373.17" fill="#000"/>
<polygon points="574.15,371.55 574.83,373.17 576.58,373.31 575.24,374.46 575.65,376.16 574.15,375.25 572.65,376.16 573.06,374.46 571.72,373.31 573.47,373.17" fill="#000"/>
<polygon points="578.60,371.55 579.28,373.17 581.03,373.31 579.69,374.46 580.10,376.16 578.60,375.25 577.10,376.16 577.51,374.46 576.17,373.31 577.92,373.17" fill="#000"/>
<path d="M571.25 387.00V384.60H576.85V387.00" fill="none" stroke="#111" stroke-width="1.05"/>
<polygon points="582.85,446.95 583.53,448.57 585.28,448.71 583.94,449.86 584.35,451.56 582.85,450.65 581.35,451.56 581.76,449.86 580.42,448.71 582.17,448.57" fill="#000"/>
<polygon points="587.30,446.95 587.98,448.57 589.73,448.71 588.39,449.86 588.80,451.56 587.30,450.65 585.80,451.56 586.21,449.86 584.87,448.71 586.62,448.57" fill="#000"/>
<polygon points="591.75,446.95 592.43,448.57 594.18,448.71 592.84,449.86 593.25,451.56 591.75,450.65 590.25,451.56 590.66,449.86 589.32,448.71 591.07,448.57" fill="#000"/>
<path d="M584.40 462.40V460.00H590.00V462.40" fill="none" stroke="#111" stroke-width="1.05"/>
<polygon points="596.00,456.15 596.68,457.77 598.43,457.91 597.09,459.06 597.50,460.76 596.00,459.85 594.50,460.76 594.91,459.06 593.57,457.91 595.32,457.77" fill="#000"/>
<polygon points="600.45,456.15 601.13,457.77 602.88,457.91 601.54,459.06 601.95,460.76 600.45,459.85 598.95,460.76 599.36,459.06 598.02,457.91 599.77,457.77" fill="#000"/>
<polygon points="604.90,456.15 605.58,457.77 607.33,457.91 605.99,459.06 606.40,460.76 604.90,459.85 603.40,460.76 603.81,459.06 602.47,457.91 604.22,457.77" fill="#000"/>
<path d="M597.55 471.40V469.00H603.15V471.40" fill="none" stroke="#111" stroke-width="1.05"/>
<polygon points="609.15,450.45 609.83,452.07 611.58,452.21 610.24,453.36 610.65,455.06 609.15,454.15 607.65,455.06 608.06,453.36 606.72,452.21 608.47,452.07" fill="#000"/>
<polygon points="613.60,450.45 614.28,452.07 616.03,452.21 614.69,453.36 615.10,455.06 613.60,454.15 612.10,455.06 612.51,453.36 611.17,452.21 612.92,452.07" fill="#000"/>
<polygon points="618.05,450.45 618.73,452.07 620.48,452.21 619.14,453.36 619.55,455.06 618.05,454.15 616.55,455.06 616.96,453.36 615.62,452.21 617.37,452.07" fill="#000"/>
<path d="M610.70 465.70V463.30H616.30V465.70" fill="none" stroke="#111" stroke-width="1.05"/>
<polygon points="620.07,441.45 620.75,443.07 622.50,443.21 621.17,444.36 621.57,446.06 620.07,445.15 618.58,446.06 618.98,444.36 617.65,443.21 619.40,443.07" fill="#000"/>
<polygon points="624.52,441.45 625.20,443.07 626.95,443.21 625.62,444.36 626.02,446.06 624.52,445.15 623.03,446.06 623.43,444.36 622.10,443.21 623.85,443.07" fill="#000"/>
<polygon points="628.97,441.45 629.65,443.07 631.40,443.21 630.07,444.36 630.47,446.06 628.97,445.15 627.48,446.06 627.88,444.36 626.55,443.21 628.30,443.07" fill="#000"/>
<polygon points="633.42,441.45 634.10,443.07 635.85,443.21 634.52,444.36 634.92,446.06 633.42,445.15 631.93,446.06 632.33,444.36 631.00,443.21 632.75,443.07" fill="#000"/>
<path d="M623.85 456.70V454.30H629.45V456.70" fill="none" stroke="#111" stroke-width="1.05"/>
</svg></body></html>
